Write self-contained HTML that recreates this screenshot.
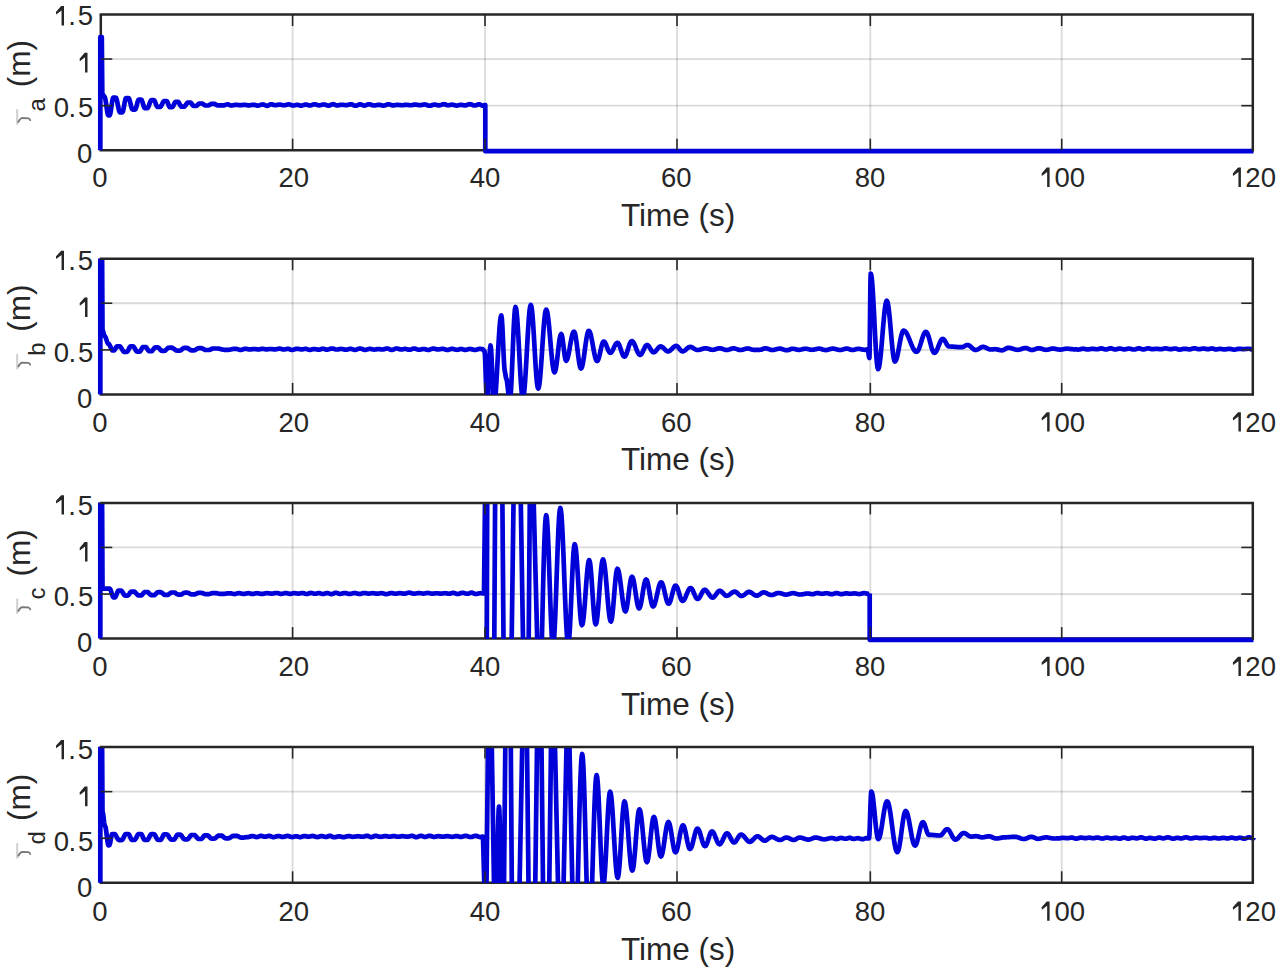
<!DOCTYPE html>
<html><head><meta charset="utf-8"><style>
html,body{margin:0;padding:0;background:#fff;width:1280px;height:968px;overflow:hidden}
svg{position:absolute;left:0;top:0;font-family:"Liberation Sans", sans-serif;}
text{fill:#262626}
</style></head><body>
<svg width="1280" height="968" viewBox="0 0 1280 968">
<rect width="1280" height="968" fill="#fff"/>
<g>
<rect width="1280" height="968" fill="#fff"/>
<line x1="292.60" y1="14.50" x2="292.60" y2="150.20" stroke="rgba(38,38,38,0.17)" stroke-width="1.8"/>
<line x1="485.00" y1="14.50" x2="485.00" y2="150.20" stroke="rgba(38,38,38,0.17)" stroke-width="1.8"/>
<line x1="677.00" y1="14.50" x2="677.00" y2="150.20" stroke="rgba(38,38,38,0.17)" stroke-width="1.8"/>
<line x1="870.30" y1="14.50" x2="870.30" y2="150.20" stroke="rgba(38,38,38,0.17)" stroke-width="1.8"/>
<line x1="1061.70" y1="14.50" x2="1061.70" y2="150.20" stroke="rgba(38,38,38,0.17)" stroke-width="1.8"/>
<line x1="100.80" y1="105.67" x2="1252.80" y2="105.67" stroke="rgba(38,38,38,0.17)" stroke-width="1.8"/>
<line x1="100.80" y1="59.03" x2="1252.80" y2="59.03" stroke="rgba(38,38,38,0.17)" stroke-width="1.8"/>
<path d="M100.80,14.50 V150.20 H1253.90" fill="none" stroke="#262626" stroke-width="2.5"/>
<line x1="292.60" y1="258.70" x2="292.60" y2="394.40" stroke="rgba(38,38,38,0.17)" stroke-width="1.8"/>
<line x1="485.00" y1="258.70" x2="485.00" y2="394.40" stroke="rgba(38,38,38,0.17)" stroke-width="1.8"/>
<line x1="677.00" y1="258.70" x2="677.00" y2="394.40" stroke="rgba(38,38,38,0.17)" stroke-width="1.8"/>
<line x1="870.30" y1="258.70" x2="870.30" y2="394.40" stroke="rgba(38,38,38,0.17)" stroke-width="1.8"/>
<line x1="1061.70" y1="258.70" x2="1061.70" y2="394.40" stroke="rgba(38,38,38,0.17)" stroke-width="1.8"/>
<line x1="100.80" y1="349.87" x2="1252.80" y2="349.87" stroke="rgba(38,38,38,0.17)" stroke-width="1.8"/>
<line x1="100.80" y1="303.23" x2="1252.80" y2="303.23" stroke="rgba(38,38,38,0.17)" stroke-width="1.8"/>
<path d="M100.80,258.70 V394.40 H1253.90" fill="none" stroke="#262626" stroke-width="2.5"/>
<line x1="292.60" y1="502.90" x2="292.60" y2="638.60" stroke="rgba(38,38,38,0.17)" stroke-width="1.8"/>
<line x1="485.00" y1="502.90" x2="485.00" y2="638.60" stroke="rgba(38,38,38,0.17)" stroke-width="1.8"/>
<line x1="677.00" y1="502.90" x2="677.00" y2="638.60" stroke="rgba(38,38,38,0.17)" stroke-width="1.8"/>
<line x1="870.30" y1="502.90" x2="870.30" y2="638.60" stroke="rgba(38,38,38,0.17)" stroke-width="1.8"/>
<line x1="1061.70" y1="502.90" x2="1061.70" y2="638.60" stroke="rgba(38,38,38,0.17)" stroke-width="1.8"/>
<line x1="100.80" y1="594.07" x2="1252.80" y2="594.07" stroke="rgba(38,38,38,0.17)" stroke-width="1.8"/>
<line x1="100.80" y1="547.43" x2="1252.80" y2="547.43" stroke="rgba(38,38,38,0.17)" stroke-width="1.8"/>
<path d="M100.80,502.90 V638.60 H1253.90" fill="none" stroke="#262626" stroke-width="2.5"/>
<line x1="292.60" y1="747.10" x2="292.60" y2="882.80" stroke="rgba(38,38,38,0.17)" stroke-width="1.8"/>
<line x1="485.00" y1="747.10" x2="485.00" y2="882.80" stroke="rgba(38,38,38,0.17)" stroke-width="1.8"/>
<line x1="677.00" y1="747.10" x2="677.00" y2="882.80" stroke="rgba(38,38,38,0.17)" stroke-width="1.8"/>
<line x1="870.30" y1="747.10" x2="870.30" y2="882.80" stroke="rgba(38,38,38,0.17)" stroke-width="1.8"/>
<line x1="1061.70" y1="747.10" x2="1061.70" y2="882.80" stroke="rgba(38,38,38,0.17)" stroke-width="1.8"/>
<line x1="100.80" y1="838.27" x2="1252.80" y2="838.27" stroke="rgba(38,38,38,0.17)" stroke-width="1.8"/>
<line x1="100.80" y1="791.63" x2="1252.80" y2="791.63" stroke="rgba(38,38,38,0.17)" stroke-width="1.8"/>
<path d="M100.80,747.10 V882.80 H1253.90" fill="none" stroke="#262626" stroke-width="2.5"/>
<defs><clipPath id="c0"><rect x="95" y="14.20" width="1165" height="136.30"/></clipPath><clipPath id="c1"><rect x="95" y="258.40" width="1165" height="136.30"/></clipPath><clipPath id="c2"><rect x="95" y="502.60" width="1165" height="136.30"/></clipPath><clipPath id="c3"><rect x="95" y="746.80" width="1165" height="136.30"/></clipPath></defs>
<path d="M100.30,150.20 L100.30,37.00 L101.80,37.00 L102.30,94.00 L102.65,94.17 L103.00,94.62 L103.35,95.25 L103.70,95.88 L104.05,96.33 L104.40,96.50 L104.90,97.22 L105.40,99.28 L105.90,102.36 L106.40,106.00 L106.90,109.64 L107.40,112.72 L107.90,114.78 L108.40,115.50 L108.95,115.50 L109.51,115.50 L110.06,114.58 L110.62,112.08 L111.17,108.49 L111.73,104.51 L112.28,100.92 L112.84,98.42 L113.39,97.50 L113.95,97.50 L114.50,97.50 L115.06,97.50 L115.62,97.50 L116.17,97.93 L116.73,99.50 L117.29,101.96 L117.85,104.90 L118.41,107.84 L118.97,110.30 L119.53,111.87 L120.08,112.30 L120.64,112.30 L121.20,112.30 L121.75,112.30 L122.29,112.30 L122.84,111.57 L123.38,109.59 L123.93,106.73 L124.47,103.57 L125.02,100.71 L125.56,98.73 L126.11,98.00 L126.65,98.00 L127.20,98.00 L127.76,98.00 L128.32,98.00 L128.88,98.34 L129.43,99.57 L129.99,101.49 L130.55,103.80 L131.11,106.11 L131.67,108.03 L132.22,109.26 L132.78,109.60 L133.34,109.60 L133.90,109.60 L134.45,109.60 L135.01,109.60 L135.56,109.09 L136.12,107.68 L136.67,105.67 L137.23,103.43 L137.78,101.42 L138.34,100.01 L138.89,99.50 L139.45,99.50 L140.00,99.50 L140.55,99.50 L141.09,99.50 L141.64,99.94 L142.18,101.15 L142.73,102.89 L143.27,104.81 L143.82,106.55 L144.36,107.76 L144.91,108.20 L145.45,108.20 L146.00,108.20 L146.56,108.20 L147.12,108.20 L147.68,107.97 L148.23,107.12 L148.79,105.79 L149.35,104.20 L149.91,102.61 L150.47,101.28 L151.02,100.43 L151.58,100.20 L152.14,100.20 L152.70,100.20 L153.25,100.20 L153.81,100.20 L154.36,100.55 L154.92,101.49 L155.47,102.85 L156.03,104.35 L156.58,105.71 L157.14,106.65 L157.69,107.00 L158.25,107.00 L158.80,107.00 L159.36,107.00 L159.92,107.00 L160.48,106.82 L161.03,106.19 L161.59,105.19 L162.15,104.00 L162.71,102.81 L163.27,101.81 L163.82,101.18 L164.38,101.00 L164.94,101.00 L165.50,101.00 L166.05,101.00 L166.60,101.01 L167.15,101.52 L167.70,102.64 L168.25,104.10 L168.80,105.56 L169.35,106.68 L169.90,107.19 L170.45,107.20 L171.00,107.20 L171.58,107.20 L172.16,107.19 L172.74,106.74 L173.32,105.77 L173.90,104.50 L174.48,103.23 L175.06,102.26 L175.64,101.81 L176.22,101.80 L176.80,101.80 L177.39,101.80 L177.98,101.81 L178.57,102.21 L179.16,103.10 L179.75,104.25 L180.34,105.40 L180.93,106.29 L181.52,106.69 L182.11,106.70 L182.70,106.70 L183.30,106.70 L183.90,106.70 L184.50,106.49 L185.10,105.90 L185.70,105.06 L186.30,104.14 L186.90,103.30 L187.50,102.71 L188.10,102.50 L188.70,102.50 L189.30,102.50 L189.85,102.50 L190.40,102.51 L190.95,102.79 L191.50,103.43 L192.05,104.25 L192.60,105.07 L193.15,105.71 L193.70,105.99 L194.25,106.00 L194.80,106.00 L195.38,106.00 L195.96,105.99 L196.54,105.79 L197.12,105.34 L197.70,104.75 L198.28,104.16 L198.86,103.71 L199.44,103.51 L200.02,103.50 L200.60,103.50 L201.17,103.50 L201.75,103.50 L202.32,103.60 L202.89,103.88 L203.46,104.28 L204.04,104.72 L204.61,105.12 L205.18,105.40 L205.75,105.50 L206.33,105.50 L206.90,105.50 L207.45,105.50 L208.01,105.50 L208.56,105.41 L209.12,105.18 L209.67,104.84 L210.23,104.46 L210.78,104.12 L211.34,103.89 L211.89,103.80 L212.45,103.80 L213.00,103.80 L213.55,103.80 L214.09,103.80 L214.64,103.88 L215.18,104.10 L215.73,104.42 L216.27,104.78 L216.82,105.10 L217.36,105.32 L217.91,105.40 L218.45,105.40 L219.00,105.40 L219.56,105.40 L220.12,105.40 L220.69,105.39 L221.25,105.39 L221.81,105.38 L222.38,105.38 L222.94,105.38 L223.50,105.38 L224.00,105.34 L224.51,105.23 L225.01,105.07 L225.51,104.89 L226.02,104.70 L226.52,104.54 L227.03,104.43 L227.53,104.39 L228.09,104.45 L228.65,104.61 L229.21,104.83 L229.77,105.09 L230.33,105.31 L230.89,105.47 L231.45,105.53 L231.99,105.50 L232.53,105.42 L233.07,105.30 L233.61,105.17 L234.15,105.03 L234.69,104.91 L235.23,104.84 L235.77,104.81 L236.33,104.82 L236.90,104.86 L237.46,104.92 L238.03,104.99 L238.59,105.06 L239.15,105.12 L239.72,105.16 L240.28,105.18 L240.83,105.16 L241.38,105.12 L241.93,105.06 L242.49,104.99 L243.04,104.92 L243.59,104.86 L244.14,104.82 L244.69,104.80 L245.25,104.83 L245.82,104.92 L246.38,105.05 L246.95,105.20 L247.51,105.33 L248.07,105.42 L248.64,105.45 L249.19,105.43 L249.74,105.37 L250.29,105.28 L250.83,105.16 L251.38,105.05 L251.93,104.93 L252.48,104.84 L253.03,104.78 L253.58,104.76 L254.10,104.79 L254.61,104.88 L255.13,105.02 L255.64,105.18 L256.16,105.33 L256.67,105.47 L257.19,105.56 L257.71,105.59 L258.27,105.55 L258.84,105.46 L259.41,105.30 L259.97,105.12 L260.54,104.92 L261.11,104.73 L261.68,104.58 L262.24,104.48 L262.81,104.45 L263.36,104.50 L263.90,104.65 L264.45,104.87 L264.99,105.14 L265.54,105.41 L266.08,105.63 L266.63,105.78 L267.17,105.83 L267.73,105.75 L268.28,105.54 L268.84,105.22 L269.39,104.86 L269.95,104.55 L270.50,104.33 L271.06,104.25 L271.59,104.29 L272.11,104.40 L272.64,104.56 L273.17,104.75 L273.69,104.94 L274.22,105.10 L274.75,105.21 L275.27,105.25 L275.84,105.22 L276.41,105.13 L276.98,105.01 L277.55,104.87 L278.12,104.75 L278.69,104.66 L279.26,104.63 L279.81,104.65 L280.35,104.71 L280.90,104.79 L281.45,104.90 L282.00,105.01 L282.54,105.12 L283.09,105.20 L283.64,105.26 L284.19,105.28 L284.76,105.24 L285.34,105.15 L285.91,105.01 L286.49,104.84 L287.07,104.67 L287.64,104.53 L288.22,104.44 L288.80,104.40 L289.34,104.45 L289.88,104.57 L290.42,104.75 L290.96,104.97 L291.50,105.18 L292.04,105.37 L292.58,105.49 L293.12,105.53 L293.68,105.50 L294.24,105.40 L294.80,105.25 L295.36,105.09 L295.92,104.94 L296.47,104.84 L297.03,104.81 L297.55,104.84 L298.06,104.93 L298.57,105.06 L299.08,105.22 L299.60,105.37 L300.11,105.51 L300.62,105.60 L301.14,105.63 L301.69,105.59 L302.24,105.48 L302.79,105.32 L303.34,105.13 L303.89,104.94 L304.44,104.78 L304.99,104.67 L305.54,104.63 L306.12,104.66 L306.69,104.75 L307.27,104.89 L307.85,105.05 L308.42,105.21 L309.00,105.34 L309.58,105.44 L310.15,105.47 L310.68,105.42 L311.21,105.30 L311.74,105.11 L312.27,104.88 L312.80,104.66 L313.33,104.47 L313.85,104.34 L314.38,104.29 L314.91,104.32 L315.44,104.41 L315.97,104.55 L316.50,104.72 L317.03,104.90 L317.56,105.06 L318.09,105.20 L318.62,105.29 L319.15,105.32 L319.73,105.29 L320.30,105.20 L320.88,105.06 L321.45,104.90 L322.03,104.74 L322.60,104.61 L323.18,104.51 L323.75,104.48 L324.31,104.52 L324.87,104.62 L325.42,104.78 L325.98,104.97 L326.53,105.17 L327.09,105.37 L327.65,105.52 L328.20,105.63 L328.76,105.66 L329.29,105.60 L329.81,105.44 L330.34,105.20 L330.87,104.91 L331.39,104.63 L331.92,104.38 L332.45,104.22 L332.97,104.16 L333.54,104.23 L334.11,104.40 L334.68,104.66 L335.25,104.95 L335.82,105.20 L336.39,105.38 L336.96,105.44 L337.50,105.42 L338.03,105.36 L338.57,105.27 L339.11,105.15 L339.65,105.03 L340.19,104.92 L340.73,104.83 L341.27,104.76 L341.80,104.74 L342.36,104.76 L342.93,104.81 L343.49,104.88 L344.05,104.96 L344.61,105.04 L345.17,105.11 L345.73,105.16 L346.29,105.18 L346.81,105.15 L347.34,105.08 L347.86,104.96 L348.39,104.82 L348.92,104.67 L349.44,104.53 L349.97,104.42 L350.49,104.34 L351.02,104.31 L351.59,104.37 L352.17,104.53 L352.74,104.76 L353.32,105.04 L353.89,105.32 L354.47,105.55 L355.04,105.71 L355.61,105.76 L356.15,105.71 L356.68,105.56 L357.21,105.33 L357.74,105.06 L358.27,104.80 L358.80,104.57 L359.33,104.42 L359.86,104.36 L360.44,104.41 L361.02,104.54 L361.60,104.73 L362.18,104.96 L362.76,105.19 L363.33,105.38 L363.91,105.51 L364.49,105.56 L365.05,105.51 L365.60,105.37 L366.16,105.16 L366.71,104.91 L367.27,104.66 L367.82,104.45 L368.38,104.31 L368.93,104.26 L369.50,104.30 L370.07,104.40 L370.63,104.57 L371.20,104.77 L371.77,104.98 L372.33,105.18 L372.90,105.34 L373.47,105.45 L374.03,105.48 L374.56,105.46 L375.08,105.40 L375.61,105.31 L376.13,105.20 L376.66,105.09 L377.18,104.98 L377.70,104.89 L378.23,104.83 L378.75,104.81 L379.28,104.83 L379.81,104.90 L380.34,105.01 L380.87,105.14 L381.40,105.27 L381.94,105.40 L382.47,105.51 L383.00,105.58 L383.53,105.60 L384.10,105.56 L384.67,105.45 L385.25,105.27 L385.82,105.05 L386.40,104.82 L386.97,104.61 L387.54,104.43 L388.12,104.31 L388.69,104.27 L389.22,104.32 L389.74,104.44 L390.27,104.63 L390.80,104.85 L391.32,105.07 L391.85,105.25 L392.37,105.38 L392.90,105.42 L393.43,105.40 L393.95,105.35 L394.48,105.27 L395.00,105.18 L395.53,105.08 L396.05,104.98 L396.58,104.90 L397.10,104.85 L397.63,104.83 L398.18,104.85 L398.74,104.90 L399.30,104.97 L399.85,105.05 L400.41,105.13 L400.96,105.20 L401.52,105.25 L402.08,105.27 L402.65,105.24 L403.21,105.18 L403.78,105.09 L404.35,104.99 L404.92,104.90 L405.49,104.83 L406.06,104.81 L406.60,104.82 L407.14,104.86 L407.68,104.92 L408.22,104.99 L408.76,105.06 L409.30,105.13 L409.84,105.19 L410.38,105.23 L410.92,105.24 L411.44,105.22 L411.96,105.14 L412.48,105.04 L413.00,104.91 L413.52,104.78 L414.04,104.67 L414.56,104.60 L415.08,104.58 L415.64,104.60 L416.19,104.65 L416.75,104.73 L417.30,104.84 L417.86,104.95 L418.42,105.05 L418.97,105.13 L419.53,105.19 L420.08,105.21 L420.64,105.18 L421.19,105.10 L421.74,104.98 L422.30,104.84 L422.85,104.69 L423.41,104.57 L423.96,104.49 L424.51,104.47 L425.07,104.50 L425.63,104.61 L426.19,104.78 L426.74,104.99 L427.30,105.20 L427.86,105.41 L428.42,105.58 L428.97,105.69 L429.53,105.72 L430.09,105.69 L430.64,105.60 L431.20,105.46 L431.75,105.28 L432.30,105.10 L432.86,104.92 L433.41,104.78 L433.97,104.69 L434.52,104.66 L435.07,104.68 L435.62,104.76 L436.17,104.89 L436.72,105.03 L437.26,105.17 L437.81,105.29 L438.36,105.37 L438.91,105.40 L439.47,105.36 L440.02,105.26 L440.58,105.10 L441.14,104.90 L441.70,104.68 L442.25,104.48 L442.81,104.32 L443.37,104.22 L443.93,104.18 L444.43,104.22 L444.93,104.34 L445.44,104.52 L445.94,104.73 L446.45,104.94 L446.95,105.11 L447.45,105.23 L447.96,105.27 L448.47,105.25 L448.99,105.19 L449.51,105.09 L450.02,104.98 L450.54,104.87 L451.06,104.77 L451.58,104.71 L452.09,104.69 L452.65,104.72 L453.21,104.81 L453.77,104.96 L454.33,105.12 L454.89,105.29 L455.45,105.43 L456.01,105.53 L456.57,105.56 L457.10,105.54 L457.62,105.46 L458.14,105.34 L458.66,105.20 L459.19,105.07 L459.71,104.95 L460.23,104.87 L460.75,104.85 L461.30,104.87 L461.85,104.93 L462.40,105.02 L462.95,105.13 L463.50,105.24 L464.05,105.33 L464.60,105.39 L465.14,105.41 L465.72,105.36 L466.29,105.23 L466.87,105.03 L467.44,104.80 L468.01,104.56 L468.59,104.36 L469.16,104.23 L469.73,104.18 L470.26,104.22 L470.79,104.34 L471.32,104.51 L471.85,104.73 L472.38,104.96 L472.91,105.18 L473.43,105.36 L473.96,105.47 L474.49,105.51 L475.07,105.47 L475.66,105.34 L476.24,105.16 L476.82,104.94 L477.40,104.73 L477.98,104.54 L478.57,104.42 L479.15,104.38 L479.71,104.45 L480.26,104.64 L480.82,104.92 L481.38,105.23 L481.93,105.52 L482.49,105.71 L483.05,105.78 L483.42,105.73 L483.80,105.58 L484.17,105.39 L484.55,105.19 L484.92,105.05 L485.30,105.00 L485.30,151.20 L1253.50,151.20" fill="none" stroke="#0000d8" stroke-width="4.7" stroke-linejoin="round"/>
<path d="M100.30,394.40 L100.30,238.70 L102.00,238.70 L102.50,330.00 L102.83,330.40 L103.17,331.50 L103.50,333.00 L103.83,334.50 L104.17,335.60 L104.50,336.00 L105.00,336.30 L105.50,337.17 L106.00,338.47 L106.50,340.00 L107.00,341.53 L107.50,342.83 L108.00,343.70 L108.50,344.00 L109.04,344.25 L109.58,344.95 L110.11,346.01 L110.65,347.25 L111.19,348.49 L111.72,349.55 L112.26,350.25 L112.80,350.50 L113.34,350.50 L113.88,350.49 L114.42,350.15 L114.96,349.39 L115.50,348.40 L116.04,347.41 L116.58,346.65 L117.12,346.31 L117.66,346.30 L118.20,346.30 L118.78,346.30 L119.35,346.30 L119.93,346.39 L120.51,346.84 L121.08,347.62 L121.66,348.62 L122.24,349.68 L122.82,350.68 L123.39,351.46 L123.97,351.91 L124.55,352.00 L125.12,352.00 L125.70,352.00 L126.30,352.00 L126.90,351.99 L127.50,351.52 L128.10,350.49 L128.70,349.15 L129.30,347.81 L129.90,346.78 L130.50,346.31 L131.10,346.30 L131.70,346.30 L132.26,346.30 L132.82,346.30 L133.38,346.45 L133.93,347.02 L134.49,347.90 L135.05,348.95 L135.61,350.00 L136.17,350.88 L136.72,351.45 L137.28,351.60 L137.84,351.60 L138.40,351.60 L138.95,351.60 L139.49,351.60 L140.04,351.37 L140.58,350.73 L141.13,349.81 L141.67,348.79 L142.22,347.87 L142.76,347.23 L143.31,347.00 L143.85,347.00 L144.40,347.00 L144.95,347.00 L145.49,347.00 L146.04,347.21 L146.58,347.80 L147.13,348.64 L147.67,349.56 L148.22,350.40 L148.76,350.99 L149.31,351.20 L149.85,351.20 L150.40,351.20 L150.95,351.20 L151.49,351.20 L152.04,351.01 L152.58,350.48 L153.13,349.72 L153.67,348.88 L154.22,348.12 L154.76,347.59 L155.31,347.40 L155.85,347.40 L156.40,347.40 L156.97,347.40 L157.53,347.40 L158.10,347.50 L158.67,347.86 L159.23,348.42 L159.80,349.10 L160.37,349.78 L160.93,350.34 L161.50,350.70 L162.07,350.80 L162.63,350.80 L163.20,350.80 L163.77,350.80 L164.33,350.80 L164.90,350.71 L165.47,350.38 L166.03,349.87 L166.60,349.25 L167.17,348.63 L167.73,348.12 L168.30,347.79 L168.87,347.70 L169.43,347.70 L170.00,347.70 L170.61,347.70 L171.23,347.70 L171.84,347.72 L172.46,347.89 L173.07,348.21 L173.69,348.65 L174.30,349.15 L174.91,349.65 L175.53,350.09 L176.14,350.41 L176.76,350.58 L177.37,350.60 L177.99,350.60 L178.60,350.60 L179.17,350.60 L179.75,350.60 L180.32,350.52 L180.90,350.24 L181.47,349.79 L182.05,349.25 L182.62,348.71 L183.20,348.26 L183.78,347.98 L184.35,347.90 L184.93,347.90 L185.50,347.90 L186.11,347.90 L186.72,347.90 L187.32,347.97 L187.93,348.22 L188.54,348.62 L189.15,349.10 L189.76,349.58 L190.37,349.98 L190.98,350.23 L191.58,350.30 L192.19,350.30 L192.80,350.30 L193.40,350.30 L194.00,350.30 L194.60,350.24 L195.20,350.02 L195.80,349.67 L196.40,349.25 L197.00,348.83 L197.60,348.48 L198.20,348.26 L198.80,348.20 L199.40,348.20 L200.00,348.20 L200.58,348.20 L201.17,348.20 L201.75,348.25 L202.33,348.44 L202.92,348.74 L203.50,349.10 L204.08,349.46 L204.67,349.76 L205.25,349.95 L205.83,350.00 L206.42,350.00 L207.00,350.00 L207.57,350.00 L208.14,350.00 L208.71,349.99 L209.29,349.90 L209.86,349.73 L210.43,349.51 L211.00,349.25 L211.57,348.99 L212.14,348.77 L212.71,348.60 L213.29,348.51 L213.86,348.50 L214.43,348.50 L215.00,348.50 L215.62,348.50 L216.23,348.50 L216.85,348.50 L217.46,348.51 L218.08,348.55 L218.69,348.64 L219.31,348.76 L219.93,348.90 L220.54,349.07 L221.16,349.23 L221.77,349.40 L222.39,349.54 L223.01,349.66 L223.62,349.75 L224.24,349.79 L224.85,349.80 L225.47,349.80 L226.08,349.80 L226.70,349.80 L227.32,349.80 L227.94,349.80 L228.56,349.80 L229.18,349.76 L229.80,349.68 L230.42,349.56 L231.04,349.42 L231.66,349.28 L232.28,349.14 L232.90,349.02 L233.52,348.94 L234.14,348.90 L234.76,348.90 L235.38,348.90 L236.00,348.90 L236.56,348.94 L237.12,349.04 L237.69,349.20 L238.25,349.39 L238.81,349.57 L239.38,349.73 L239.94,349.84 L240.50,349.87 L241.04,349.84 L241.59,349.75 L242.13,349.61 L242.68,349.44 L243.22,349.25 L243.77,349.08 L244.31,348.94 L244.86,348.85 L245.40,348.81 L245.95,348.84 L246.49,348.90 L247.04,349.00 L247.58,349.11 L248.13,349.23 L248.67,349.32 L249.22,349.39 L249.77,349.41 L250.29,349.40 L250.81,349.37 L251.33,349.31 L251.85,349.25 L252.37,349.18 L252.89,349.11 L253.41,349.06 L253.93,349.02 L254.45,349.01 L255.01,349.04 L255.57,349.10 L256.13,349.19 L256.68,349.30 L257.24,349.39 L257.80,349.45 L258.36,349.48 L258.87,349.45 L259.37,349.38 L259.88,349.28 L260.39,349.16 L260.89,349.04 L261.40,348.94 L261.90,348.87 L262.41,348.85 L262.96,348.87 L263.52,348.94 L264.08,349.04 L264.63,349.15 L265.19,349.26 L265.75,349.33 L266.30,349.35 L266.81,349.34 L267.31,349.30 L267.81,349.24 L268.32,349.17 L268.82,349.10 L269.32,349.04 L269.83,349.00 L270.33,348.99 L270.87,349.00 L271.41,349.04 L271.95,349.11 L272.49,349.18 L273.03,349.25 L273.57,349.31 L274.11,349.35 L274.65,349.37 L275.20,349.34 L275.76,349.29 L276.32,349.19 L276.87,349.08 L277.43,348.96 L277.99,348.85 L278.54,348.76 L279.10,348.70 L279.65,348.68 L280.16,348.71 L280.66,348.80 L281.16,348.93 L281.67,349.09 L282.17,349.25 L282.67,349.38 L283.18,349.47 L283.68,349.50 L284.22,349.48 L284.75,349.40 L285.29,349.29 L285.83,349.17 L286.36,349.04 L286.90,348.93 L287.44,348.86 L287.97,348.83 L288.54,348.88 L289.11,349.03 L289.68,349.23 L290.25,349.46 L290.82,349.67 L291.39,349.81 L291.96,349.86 L292.54,349.83 L293.11,349.73 L293.69,349.59 L294.26,349.41 L294.83,349.22 L295.41,349.04 L295.98,348.90 L296.56,348.80 L297.13,348.77 L297.69,348.79 L298.25,348.86 L298.81,348.97 L299.37,349.09 L299.93,349.21 L300.49,349.31 L301.05,349.38 L301.61,349.40 L302.17,349.37 L302.74,349.30 L303.31,349.18 L303.87,349.06 L304.44,348.95 L305.00,348.87 L305.57,348.84 L306.09,348.88 L306.62,348.99 L307.14,349.15 L307.66,349.35 L308.18,349.54 L308.71,349.70 L309.23,349.81 L309.75,349.85 L310.26,349.82 L310.76,349.73 L311.27,349.60 L311.77,349.44 L312.28,349.29 L312.79,349.15 L313.29,349.07 L313.80,349.04 L314.36,349.06 L314.93,349.11 L315.50,349.19 L316.07,349.30 L316.63,349.41 L317.20,349.51 L317.77,349.59 L318.34,349.65 L318.90,349.67 L319.41,349.63 L319.91,349.53 L320.41,349.38 L320.92,349.20 L321.42,349.02 L321.92,348.86 L322.42,348.76 L322.93,348.72 L323.48,348.77 L324.03,348.90 L324.58,349.09 L325.13,349.30 L325.69,349.49 L326.24,349.62 L326.79,349.67 L327.36,349.63 L327.93,349.53 L328.50,349.38 L329.08,349.20 L329.65,349.00 L330.22,348.82 L330.79,348.66 L331.36,348.57 L331.94,348.53 L332.46,348.56 L332.99,348.65 L333.52,348.78 L334.05,348.93 L334.58,349.10 L335.11,349.26 L335.64,349.39 L336.17,349.48 L336.70,349.51 L337.24,349.49 L337.78,349.43 L338.32,349.33 L338.86,349.23 L339.40,349.12 L339.94,349.03 L340.48,348.97 L341.02,348.95 L341.56,348.97 L342.10,349.03 L342.64,349.13 L343.18,349.25 L343.72,349.37 L344.26,349.49 L344.81,349.59 L345.35,349.65 L345.89,349.67 L346.43,349.64 L346.97,349.57 L347.51,349.47 L348.05,349.33 L348.60,349.19 L349.14,349.06 L349.68,348.95 L350.22,348.88 L350.76,348.85 L351.28,348.89 L351.80,349.00 L352.31,349.16 L352.83,349.34 L353.34,349.53 L353.86,349.69 L354.37,349.80 L354.89,349.84 L355.46,349.80 L356.04,349.69 L356.61,349.51 L357.18,349.30 L357.75,349.07 L358.33,348.86 L358.90,348.69 L359.47,348.58 L360.04,348.54 L360.59,348.58 L361.14,348.69 L361.68,348.86 L362.23,349.08 L362.77,349.30 L363.32,349.52 L363.87,349.69 L364.41,349.80 L364.96,349.84 L365.49,349.81 L366.03,349.73 L366.57,349.61 L367.10,349.46 L367.64,349.30 L368.17,349.15 L368.71,349.02 L369.25,348.94 L369.78,348.91 L370.35,348.94 L370.91,349.01 L371.48,349.11 L372.04,349.24 L372.61,349.36 L373.17,349.47 L373.74,349.54 L374.31,349.56 L374.86,349.54 L375.41,349.46 L375.96,349.36 L376.51,349.24 L377.07,349.13 L377.62,349.06 L378.17,349.03 L378.69,349.05 L379.22,349.10 L379.75,349.18 L380.27,349.27 L380.80,349.36 L381.32,349.44 L381.85,349.49 L382.37,349.51 L382.90,349.47 L383.43,349.39 L383.96,349.25 L384.49,349.08 L385.02,348.90 L385.55,348.73 L386.07,348.60 L386.60,348.51 L387.13,348.48 L387.69,348.53 L388.24,348.69 L388.79,348.92 L389.35,349.19 L389.90,349.47 L390.45,349.70 L391.01,349.86 L391.56,349.91 L392.13,349.87 L392.71,349.74 L393.28,349.55 L393.85,349.32 L394.43,349.07 L395.00,348.84 L395.57,348.64 L396.15,348.52 L396.72,348.48 L397.26,348.52 L397.80,348.62 L398.34,348.79 L398.88,348.98 L399.42,349.17 L399.96,349.34 L400.50,349.44 L401.04,349.48 L401.55,349.46 L402.07,349.40 L402.59,349.31 L403.10,349.21 L403.62,349.10 L404.14,349.01 L404.65,348.95 L405.17,348.93 L405.68,348.96 L406.19,349.05 L406.71,349.18 L407.22,349.33 L407.73,349.48 L408.24,349.61 L408.76,349.69 L409.27,349.72 L409.83,349.69 L410.39,349.59 L410.95,349.43 L411.51,349.24 L412.07,349.03 L412.63,348.84 L413.19,348.68 L413.75,348.58 L414.31,348.55 L414.87,348.59 L415.43,348.72 L415.99,348.91 L416.55,349.14 L417.10,349.37 L417.66,349.57 L418.22,349.70 L418.78,349.74 L419.33,349.72 L419.87,349.65 L420.42,349.56 L420.96,349.43 L421.51,349.31 L422.05,349.18 L422.60,349.09 L423.14,349.02 L423.69,349.00 L424.21,349.03 L424.73,349.10 L425.26,349.22 L425.78,349.37 L426.31,349.53 L426.83,349.67 L427.35,349.79 L427.88,349.87 L428.40,349.90 L428.95,349.86 L429.49,349.74 L430.03,349.57 L430.57,349.36 L431.11,349.14 L431.66,348.92 L432.20,348.75 L432.74,348.64 L433.28,348.60 L433.84,348.63 L434.40,348.73 L434.96,348.86 L435.52,349.03 L436.08,349.19 L436.64,349.33 L437.20,349.42 L437.75,349.46 L438.30,349.44 L438.84,349.39 L439.38,349.31 L439.93,349.21 L440.47,349.10 L441.01,349.00 L441.56,348.92 L442.10,348.87 L442.64,348.85 L443.19,348.88 L443.73,348.98 L444.28,349.12 L444.83,349.30 L445.37,349.49 L445.92,349.66 L446.46,349.81 L447.01,349.90 L447.55,349.93 L448.10,349.89 L448.64,349.77 L449.19,349.59 L449.73,349.37 L450.28,349.16 L450.82,348.97 L451.37,348.85 L451.91,348.81 L452.48,348.84 L453.04,348.92 L453.61,349.05 L454.18,349.21 L454.75,349.38 L455.31,349.54 L455.88,349.67 L456.45,349.76 L457.01,349.78 L457.52,349.75 L458.03,349.67 L458.53,349.53 L459.04,349.38 L459.55,349.22 L460.05,349.09 L460.56,349.00 L461.07,348.97 L461.57,349.01 L462.08,349.11 L462.58,349.26 L463.08,349.43 L463.59,349.61 L464.09,349.76 L464.59,349.86 L465.10,349.89 L465.64,349.86 L466.19,349.78 L466.73,349.66 L467.28,349.51 L467.83,349.35 L468.37,349.19 L468.92,349.07 L469.46,348.99 L470.01,348.96 L470.56,348.99 L471.11,349.08 L471.66,349.21 L472.21,349.37 L472.76,349.53 L473.30,349.69 L473.85,349.82 L474.40,349.91 L474.95,349.94 L475.48,349.91 L476.00,349.81 L476.52,349.66 L477.05,349.48 L477.57,349.29 L478.09,349.11 L478.62,348.97 L479.14,348.87 L479.66,348.84 L480.14,348.86 L480.61,348.93 L481.08,349.02 L481.55,349.11 L482.03,349.18 L482.50,349.20 L482.83,349.32 L483.17,349.65 L483.50,350.10 L483.83,350.55 L484.17,350.88 L484.50,351.00 L484.92,354.42 L485.33,363.75 L485.75,376.50 L486.17,389.25 L486.58,398.58 L487.00,402.00 L487.50,399.20 L488.00,391.36 L488.50,380.04 L489.00,367.46 L489.50,356.14 L490.00,348.30 L490.50,345.50 L491.00,348.40 L491.50,356.51 L492.00,368.24 L492.50,381.26 L493.00,392.99 L493.50,401.10 L494.00,404.00 L494.61,402.49 L495.22,398.07 L495.82,391.04 L496.43,381.88 L497.04,371.20 L497.65,359.75 L498.26,348.30 L498.87,337.62 L499.48,328.46 L500.08,321.43 L500.69,317.01 L501.30,315.50 L501.83,318.30 L502.36,326.14 L502.89,337.46 L503.41,350.04 L503.94,361.36 L504.47,369.20 L505.00,372.00 L506.00,378.00 L506.54,379.09 L507.09,382.14 L507.63,386.55 L508.17,391.45 L508.71,395.86 L509.26,398.91 L509.80,400.00 L510.37,397.72 L510.94,391.12 L511.51,380.83 L512.08,367.87 L512.65,353.50 L513.22,339.13 L513.79,326.17 L514.36,315.88 L514.93,309.28 L515.50,307.00 L516.07,308.32 L516.64,312.21 L517.21,318.44 L517.78,326.65 L518.35,336.37 L518.92,347.02 L519.48,357.98 L520.05,368.63 L520.62,378.35 L521.19,386.56 L521.76,392.79 L522.33,396.68 L522.90,398.00 L523.51,396.65 L524.12,392.67 L524.72,386.31 L525.33,377.92 L525.94,367.99 L526.55,357.10 L527.15,345.90 L527.76,335.01 L528.37,325.08 L528.98,316.69 L529.58,310.33 L530.19,306.35 L530.80,305.00 L531.37,306.21 L531.94,309.78 L532.51,315.50 L533.08,323.03 L533.65,331.95 L534.22,341.72 L534.78,351.78 L535.35,361.55 L535.92,370.47 L536.49,378.00 L537.06,383.72 L537.63,387.29 L538.20,388.50 L538.77,387.51 L539.34,384.59 L539.91,379.89 L540.49,373.65 L541.06,366.17 L541.63,357.83 L542.20,349.05 L542.77,340.27 L543.34,331.93 L543.91,324.45 L544.49,318.21 L545.06,313.51 L545.63,310.59 L546.20,309.60 L546.79,310.39 L547.39,312.70 L547.98,316.44 L548.57,321.40 L549.16,327.35 L549.76,333.97 L550.35,340.95 L550.94,347.93 L551.54,354.55 L552.13,360.50 L552.72,365.46 L553.31,369.20 L553.91,371.51 L554.50,372.30 L555.06,371.65 L555.62,369.74 L556.17,366.71 L556.73,362.75 L557.29,358.14 L557.85,353.20 L558.41,348.26 L558.97,343.65 L559.53,339.69 L560.08,336.66 L560.64,334.75 L561.20,334.10 L561.74,334.90 L562.29,337.21 L562.83,340.75 L563.38,345.09 L563.92,349.71 L564.47,354.05 L565.01,357.59 L565.56,359.90 L566.10,360.70 L566.71,360.28 L567.32,359.03 L567.92,357.04 L568.53,354.42 L569.14,351.31 L569.75,347.90 L570.35,344.40 L570.96,340.99 L571.57,337.88 L572.18,335.26 L572.78,333.27 L573.39,332.02 L574.00,331.60 L574.58,332.23 L575.17,334.07 L575.75,337.00 L576.33,340.82 L576.92,345.27 L577.50,350.05 L578.08,354.83 L578.67,359.27 L579.25,363.10 L579.83,366.03 L580.42,367.87 L581.00,368.50 L581.60,367.95 L582.20,366.34 L582.80,363.76 L583.40,360.36 L584.00,356.33 L584.60,351.92 L585.20,347.38 L585.80,342.97 L586.40,338.94 L587.00,335.54 L587.60,332.96 L588.20,331.35 L588.80,330.80 L589.39,331.18 L589.99,332.30 L590.58,334.11 L591.17,336.50 L591.76,339.38 L592.36,342.58 L592.95,345.95 L593.54,349.32 L594.14,352.52 L594.73,355.40 L595.32,357.79 L595.91,359.60 L596.51,360.72 L597.10,361.10 L597.70,360.70 L598.30,359.54 L598.90,357.72 L599.50,355.37 L600.10,352.69 L600.70,349.91 L601.30,347.23 L601.90,344.88 L602.50,343.06 L603.10,341.90 L603.70,341.50 L604.30,341.73 L604.90,342.40 L605.50,343.45 L606.10,344.80 L606.70,346.35 L607.30,347.95 L607.90,349.50 L608.50,350.85 L609.10,351.90 L609.70,352.57 L610.30,352.80 L610.89,352.63 L611.48,352.13 L612.07,351.34 L612.67,350.30 L613.26,349.09 L613.85,347.80 L614.44,346.51 L615.03,345.30 L615.62,344.26 L616.22,343.47 L616.81,342.97 L617.40,342.80 L617.98,343.04 L618.57,343.72 L619.15,344.82 L619.73,346.25 L620.32,347.91 L620.90,349.70 L621.48,351.49 L622.07,353.15 L622.65,354.58 L623.23,355.68 L623.82,356.36 L624.40,356.60 L624.97,356.37 L625.54,355.71 L626.11,354.65 L626.68,353.25 L627.25,351.60 L627.82,349.78 L628.38,347.92 L628.95,346.10 L629.52,344.45 L630.09,343.05 L630.66,341.99 L631.23,341.33 L631.80,341.10 L632.39,341.27 L632.99,341.78 L633.58,342.61 L634.17,343.70 L634.76,345.01 L635.36,346.46 L635.95,348.00 L636.54,349.54 L637.14,350.99 L637.73,352.30 L638.32,353.39 L638.91,354.22 L639.51,354.73 L640.10,354.90 L640.68,354.73 L641.25,354.24 L641.83,353.45 L642.40,352.43 L642.98,351.23 L643.55,349.95 L644.12,348.67 L644.70,347.48 L645.27,346.45 L645.85,345.66 L646.42,345.17 L647.00,345.00 L647.60,345.15 L648.20,345.58 L648.80,346.26 L649.40,347.13 L650.00,348.13 L650.60,349.17 L651.20,350.17 L651.80,351.04 L652.40,351.72 L653.00,352.15 L653.60,352.30 L654.18,352.20 L654.77,351.90 L655.35,351.44 L655.93,350.82 L656.52,350.11 L657.10,349.35 L657.68,348.59 L658.27,347.88 L658.85,347.26 L659.43,346.80 L660.02,346.50 L660.60,346.40 L661.18,346.47 L661.75,346.69 L662.33,347.03 L662.91,347.48 L663.48,348.01 L664.06,348.60 L664.64,349.20 L665.22,349.79 L665.79,350.32 L666.37,350.77 L666.95,351.11 L667.52,351.33 L668.10,351.40 L668.67,351.33 L669.24,351.13 L669.81,350.80 L670.39,350.36 L670.96,349.84 L671.53,349.26 L672.10,348.65 L672.67,348.04 L673.24,347.46 L673.81,346.94 L674.39,346.50 L674.96,346.17 L675.53,345.97 L676.10,345.90 L676.69,346.01 L677.28,346.34 L677.87,346.85 L678.46,347.51 L679.05,348.26 L679.65,349.04 L680.24,349.79 L680.83,350.45 L681.42,350.96 L682.01,351.29 L682.60,351.40 L683.18,351.33 L683.75,351.14 L684.33,350.83 L684.91,350.43 L685.48,349.95 L686.06,349.42 L686.64,348.88 L687.22,348.35 L687.79,347.87 L688.37,347.47 L688.95,347.16 L689.52,346.97 L690.10,346.90 L690.68,346.95 L691.25,347.08 L691.83,347.29 L692.41,347.57 L692.98,347.90 L693.56,348.26 L694.14,348.64 L694.72,349.00 L695.29,349.33 L695.87,349.61 L696.45,349.82 L697.02,349.95 L697.60,350.00 L698.17,349.98 L698.74,349.92 L699.31,349.81 L699.89,349.68 L700.46,349.52 L701.03,349.34 L701.60,349.15 L702.17,348.96 L702.74,348.78 L703.31,348.62 L703.89,348.49 L704.46,348.38 L705.03,348.32 L705.60,348.30 L706.18,348.33 L706.77,348.40 L707.35,348.52 L707.93,348.68 L708.52,348.86 L709.10,349.05 L709.68,349.24 L710.27,349.43 L710.85,349.58 L711.43,349.70 L712.02,349.77 L712.60,349.80 L713.19,349.77 L713.78,349.70 L714.38,349.58 L714.97,349.43 L715.56,349.24 L716.15,349.05 L716.74,348.86 L717.33,348.68 L717.93,348.52 L718.52,348.40 L719.11,348.33 L719.70,348.30 L720.28,348.33 L720.87,348.41 L721.45,348.55 L722.03,348.73 L722.62,348.93 L723.20,349.15 L723.78,349.37 L724.37,349.57 L724.95,349.75 L725.53,349.89 L726.12,349.97 L726.70,350.00 L727.28,349.97 L727.87,349.89 L728.45,349.77 L729.03,349.60 L729.62,349.41 L730.20,349.20 L730.78,348.99 L731.37,348.80 L731.95,348.63 L732.53,348.51 L733.12,348.43 L733.70,348.40 L734.30,348.43 L734.90,348.53 L735.50,348.68 L736.10,348.87 L736.70,349.09 L737.30,349.31 L737.90,349.53 L738.50,349.72 L739.10,349.87 L739.70,349.97 L740.30,350.00 L740.88,349.98 L741.45,349.91 L742.03,349.81 L742.61,349.68 L743.18,349.52 L743.76,349.34 L744.34,349.16 L744.92,348.98 L745.49,348.82 L746.07,348.69 L746.65,348.59 L747.22,348.52 L747.80,348.50 L748.36,348.53 L748.92,348.62 L749.48,348.77 L750.04,348.95 L750.60,349.15 L751.16,349.35 L751.72,349.53 L752.28,349.68 L752.84,349.77 L753.40,349.80 L753.99,349.80 L754.58,349.80 L755.17,349.80 L755.76,349.79 L756.35,349.79 L756.95,349.79 L757.54,349.78 L758.13,349.78 L758.72,349.78 L759.31,349.78 L759.90,349.78 L760.46,349.74 L761.01,349.64 L761.57,349.48 L762.12,349.27 L762.68,349.05 L763.23,348.82 L763.79,348.62 L764.34,348.46 L764.90,348.35 L765.45,348.32 L766.02,348.35 L766.58,348.43 L767.15,348.57 L767.72,348.74 L768.28,348.95 L768.85,349.17 L769.41,349.39 L769.98,349.59 L770.55,349.77 L771.11,349.90 L771.68,349.99 L772.24,350.02 L772.81,350.00 L773.37,349.94 L773.94,349.84 L774.50,349.72 L775.07,349.57 L775.63,349.41 L776.20,349.24 L776.76,349.08 L777.33,348.94 L777.90,348.81 L778.46,348.72 L779.03,348.66 L779.59,348.64 L780.19,348.67 L780.79,348.74 L781.40,348.87 L782.00,349.03 L782.60,349.22 L783.20,349.42 L783.80,349.62 L784.41,349.81 L785.01,349.97 L785.61,350.09 L786.21,350.17 L786.82,350.20 L787.41,350.16 L788.00,350.06 L788.60,349.90 L789.19,349.70 L789.78,349.47 L790.38,349.25 L790.97,349.05 L791.56,348.89 L792.16,348.78 L792.75,348.75 L793.31,348.77 L793.86,348.84 L794.41,348.94 L794.97,349.07 L795.52,349.22 L796.08,349.37 L796.63,349.52 L797.19,349.66 L797.74,349.76 L798.29,349.82 L798.85,349.84 L799.40,349.83 L799.96,349.77 L800.52,349.68 L801.07,349.57 L801.63,349.44 L802.18,349.29 L802.74,349.15 L803.29,349.02 L803.85,348.91 L804.41,348.82 L804.96,348.76 L805.52,348.74 L806.09,348.77 L806.67,348.83 L807.25,348.92 L807.82,349.05 L808.40,349.19 L808.98,349.34 L809.55,349.48 L810.13,349.60 L810.71,349.70 L811.28,349.76 L811.86,349.78 L812.47,349.76 L813.08,349.71 L813.68,349.62 L814.29,349.51 L814.90,349.37 L815.51,349.23 L816.12,349.09 L816.72,348.96 L817.33,348.85 L817.94,348.76 L818.55,348.71 L819.16,348.69 L819.74,348.72 L820.33,348.80 L820.91,348.92 L821.49,349.09 L822.08,349.27 L822.66,349.47 L823.24,349.65 L823.83,349.81 L824.41,349.94 L824.99,350.02 L825.58,350.05 L826.18,350.03 L826.79,349.96 L827.40,349.84 L828.01,349.70 L828.61,349.53 L829.22,349.35 L829.83,349.17 L830.44,349.00 L831.04,348.85 L831.65,348.74 L832.26,348.67 L832.86,348.65 L833.47,348.67 L834.08,348.74 L834.69,348.85 L835.30,348.99 L835.91,349.15 L836.52,349.32 L837.13,349.50 L837.74,349.66 L838.35,349.80 L838.96,349.91 L839.57,349.98 L840.18,350.00 L840.78,349.97 L841.37,349.89 L841.97,349.76 L842.57,349.59 L843.16,349.39 L843.76,349.19 L844.36,349.00 L844.95,348.83 L845.55,348.70 L846.14,348.61 L846.74,348.59 L847.30,348.62 L847.85,348.72 L848.41,348.87 L848.97,349.06 L849.52,349.27 L850.08,349.49 L850.63,349.68 L851.19,349.83 L851.75,349.93 L852.30,349.96 L852.89,349.94 L853.48,349.86 L854.07,349.74 L854.66,349.60 L855.24,349.43 L855.83,349.27 L856.42,349.12 L857.01,349.00 L857.60,348.92 L858.19,348.90 L858.78,348.91 L859.37,348.96 L859.96,349.03 L860.55,349.12 L861.14,349.23 L861.73,349.35 L862.32,349.47 L862.91,349.58 L863.50,349.67 L864.09,349.74 L864.68,349.79 L865.27,349.80 L865.66,349.77 L866.05,349.68 L866.43,349.55 L866.82,349.43 L867.21,349.33 L867.60,349.30 L867.90,349.88 L868.20,351.48 L868.50,353.65 L868.80,355.82 L869.10,357.42 L869.40,358.00 L869.62,352.34 L869.83,336.88 L870.05,315.75 L870.27,294.62 L870.48,279.16 L870.70,273.50 L871.27,274.89 L871.84,278.97 L872.41,285.51 L872.98,294.12 L873.55,304.32 L874.12,315.49 L874.68,327.01 L875.25,338.18 L875.82,348.38 L876.39,356.99 L876.96,363.53 L877.53,367.61 L878.10,369.00 L878.68,368.25 L879.26,366.05 L879.84,362.49 L880.42,357.72 L881.00,351.95 L881.58,345.44 L882.16,338.46 L882.74,331.34 L883.32,324.36 L883.90,317.85 L884.48,312.08 L885.06,307.31 L885.64,303.75 L886.22,301.55 L886.80,300.80 L887.38,301.56 L887.96,303.81 L888.54,307.42 L889.11,312.23 L889.69,317.98 L890.27,324.40 L890.85,331.15 L891.43,337.90 L892.01,344.32 L892.59,350.07 L893.16,354.88 L893.74,358.49 L894.32,360.74 L894.90,361.50 L895.48,361.16 L896.06,360.16 L896.64,358.55 L897.22,356.39 L897.80,353.78 L898.38,350.82 L898.96,347.66 L899.54,344.44 L900.12,341.28 L900.70,338.33 L901.28,335.71 L901.86,333.55 L902.44,331.94 L903.02,330.94 L903.60,330.60 L904.22,330.72 L904.84,331.07 L905.46,331.65 L906.08,332.44 L906.70,333.43 L907.31,334.59 L907.93,335.90 L908.55,337.33 L909.17,338.84 L909.79,340.41 L910.41,341.99 L911.03,343.56 L911.65,345.07 L912.27,346.50 L912.89,347.81 L913.50,348.97 L914.12,349.96 L914.74,350.75 L915.36,351.33 L915.98,351.68 L916.60,351.80 L917.22,351.58 L917.84,350.94 L918.46,349.89 L919.08,348.49 L919.70,346.80 L920.32,344.89 L920.94,342.85 L921.56,340.75 L922.18,338.71 L922.80,336.80 L923.42,335.11 L924.04,333.71 L924.66,332.66 L925.28,332.02 L925.90,331.80 L926.51,332.06 L927.11,332.84 L927.72,334.09 L928.33,335.75 L928.94,337.74 L929.54,339.96 L930.15,342.30 L930.76,344.64 L931.36,346.86 L931.97,348.85 L932.58,350.51 L933.19,351.76 L933.79,352.54 L934.40,352.80 L935.00,352.63 L935.60,352.11 L936.20,351.28 L936.80,350.18 L937.40,348.87 L938.00,347.40 L938.60,345.85 L939.20,344.30 L939.80,342.83 L940.40,341.52 L941.00,340.42 L941.60,339.59 L942.20,339.07 L942.80,338.90 L943.36,339.05 L943.93,339.50 L944.49,340.21 L945.05,341.12 L945.62,342.16 L946.18,343.24 L946.75,344.28 L947.31,345.19 L947.87,345.90 L948.44,346.35 L949.00,346.50 L949.63,346.50 L950.26,346.52 L950.89,346.54 L951.52,346.57 L952.15,346.60 L952.78,346.64 L953.41,346.69 L954.04,346.74 L954.67,346.80 L955.30,346.85 L955.93,346.90 L956.56,346.96 L957.19,347.01 L957.82,347.06 L958.45,347.10 L959.08,347.13 L959.71,347.16 L960.34,347.18 L960.97,347.20 L961.60,347.20 L962.15,347.16 L962.69,347.03 L963.24,346.82 L963.78,346.56 L964.33,346.26 L964.87,345.94 L965.42,345.64 L965.96,345.38 L966.51,345.17 L967.05,345.04 L967.60,345.00 L968.17,345.06 L968.74,345.25 L969.31,345.55 L969.89,345.94 L970.46,346.42 L971.03,346.94 L971.60,347.50 L972.17,348.06 L972.74,348.58 L973.31,349.06 L973.89,349.45 L974.46,349.75 L975.03,349.94 L975.60,350.00 L976.18,349.95 L976.75,349.82 L977.33,349.61 L977.91,349.33 L978.48,349.00 L979.06,348.64 L979.64,348.26 L980.22,347.90 L980.79,347.57 L981.37,347.29 L981.95,347.08 L982.52,346.95 L983.10,346.90 L983.68,346.94 L984.25,347.05 L984.83,347.23 L985.41,347.46 L985.98,347.74 L986.56,348.04 L987.14,348.36 L987.72,348.66 L988.29,348.94 L988.87,349.17 L989.45,349.35 L990.02,349.46 L990.60,349.50 L991.15,349.49 L991.70,349.46 L992.25,349.41 L992.80,349.35 L993.35,349.29 L993.90,349.24 L994.45,349.21 L995.00,349.20 L995.58,349.22 L996.15,349.27 L996.73,349.36 L997.30,349.47 L997.88,349.61 L998.45,349.75 L999.02,349.89 L999.60,350.02 L1000.17,350.14 L1000.75,350.23 L1001.32,350.28 L1001.90,350.30 L1002.49,350.25 L1003.08,350.10 L1003.67,349.87 L1004.26,349.57 L1004.85,349.23 L1005.45,348.87 L1006.04,348.53 L1006.63,348.23 L1007.22,348.00 L1007.81,347.85 L1008.40,347.80 L1008.99,347.82 L1009.57,347.88 L1010.16,347.97 L1010.75,348.09 L1011.34,348.24 L1011.92,348.42 L1012.51,348.60 L1013.10,348.80 L1013.69,349.00 L1014.27,349.18 L1014.86,349.36 L1015.45,349.51 L1016.04,349.63 L1016.62,349.72 L1017.21,349.78 L1017.80,349.80 L1018.41,349.77 L1019.02,349.70 L1019.62,349.57 L1020.23,349.41 L1020.84,349.22 L1021.45,349.01 L1022.05,348.79 L1022.66,348.58 L1023.27,348.39 L1023.88,348.23 L1024.48,348.10 L1025.09,348.03 L1025.70,348.00 L1026.25,348.04 L1026.81,348.16 L1027.36,348.35 L1027.92,348.58 L1028.47,348.86 L1029.03,349.14 L1029.58,349.42 L1030.14,349.65 L1030.69,349.84 L1031.25,349.96 L1031.80,350.00 L1032.39,349.97 L1032.98,349.89 L1033.58,349.75 L1034.17,349.57 L1034.76,349.37 L1035.35,349.15 L1035.94,348.93 L1036.53,348.73 L1037.12,348.55 L1037.72,348.41 L1038.31,348.33 L1038.90,348.30 L1039.49,348.33 L1040.08,348.40 L1040.68,348.52 L1041.27,348.68 L1041.86,348.86 L1042.45,349.05 L1043.04,349.24 L1043.63,349.43 L1044.22,349.58 L1044.82,349.70 L1045.41,349.77 L1046.00,349.80 L1046.58,349.78 L1047.17,349.72 L1047.75,349.62 L1048.33,349.50 L1048.92,349.36 L1049.50,349.20 L1050.08,349.04 L1050.67,348.90 L1051.25,348.78 L1051.83,348.68 L1052.42,348.62 L1053.00,348.60 L1053.58,348.62 L1054.17,348.67 L1054.75,348.75 L1055.33,348.85 L1055.92,348.97 L1056.50,349.10 L1057.08,349.23 L1057.67,349.35 L1058.25,349.45 L1058.83,349.53 L1059.42,349.58 L1060.00,349.60 L1060.58,349.58 L1061.17,349.54 L1061.75,349.47 L1062.33,349.38 L1062.92,349.27 L1063.50,349.15 L1064.08,349.03 L1064.67,348.93 L1065.25,348.83 L1065.83,348.76 L1066.42,348.72 L1067.00,348.70 L1067.58,348.71 L1068.17,348.74 L1068.75,348.79 L1069.33,348.85 L1069.92,348.92 L1070.50,349.00 L1071.08,349.08 L1071.67,349.15 L1072.25,349.21 L1072.83,349.26 L1073.42,349.29 L1074.00,349.30 L1074.56,349.31 L1075.12,349.33 L1075.69,349.37 L1076.25,349.42 L1076.81,349.46 L1077.38,349.50 L1077.94,349.53 L1078.50,349.54 L1079.07,349.50 L1079.64,349.41 L1080.22,349.28 L1080.79,349.12 L1081.36,348.96 L1081.93,348.83 L1082.50,348.74 L1083.08,348.70 L1083.64,348.73 L1084.21,348.81 L1084.77,348.93 L1085.34,349.07 L1085.90,349.21 L1086.47,349.33 L1087.04,349.41 L1087.60,349.43 L1088.14,349.42 L1088.69,349.36 L1089.23,349.28 L1089.77,349.19 L1090.31,349.08 L1090.86,348.99 L1091.40,348.91 L1091.94,348.85 L1092.48,348.84 L1093.06,348.85 L1093.63,348.90 L1094.20,348.96 L1094.78,349.04 L1095.35,349.12 L1095.92,349.19 L1096.49,349.23 L1097.07,349.25 L1097.59,349.22 L1098.12,349.13 L1098.64,349.00 L1099.17,348.84 L1099.69,348.69 L1100.22,348.56 L1100.74,348.47 L1101.27,348.44 L1101.83,348.47 L1102.39,348.58 L1102.96,348.75 L1103.52,348.94 L1104.08,349.13 L1104.65,349.29 L1105.21,349.40 L1105.78,349.44 L1106.31,349.40 L1106.85,349.31 L1107.39,349.17 L1107.93,348.99 L1108.47,348.80 L1109.01,348.62 L1109.55,348.48 L1110.09,348.39 L1110.63,348.35 L1111.18,348.39 L1111.73,348.52 L1112.29,348.70 L1112.84,348.91 L1113.39,349.12 L1113.94,349.30 L1114.50,349.43 L1115.05,349.47 L1115.61,349.43 L1116.18,349.34 L1116.74,349.20 L1117.30,349.03 L1117.87,348.86 L1118.43,348.72 L1118.99,348.63 L1119.56,348.59 L1120.09,348.62 L1120.62,348.68 L1121.14,348.79 L1121.67,348.91 L1122.20,349.05 L1122.73,349.18 L1123.26,349.28 L1123.79,349.35 L1124.32,349.37 L1124.89,349.34 L1125.45,349.26 L1126.02,349.14 L1126.59,348.99 L1127.16,348.85 L1127.73,348.72 L1128.29,348.64 L1128.86,348.61 L1129.43,348.64 L1129.99,348.72 L1130.56,348.84 L1131.13,348.99 L1131.69,349.15 L1132.26,349.29 L1132.83,349.41 L1133.39,349.49 L1133.96,349.52 L1134.51,349.48 L1135.07,349.38 L1135.63,349.22 L1136.18,349.03 L1136.74,348.82 L1137.30,348.63 L1137.85,348.47 L1138.41,348.37 L1138.97,348.33 L1139.49,348.38 L1140.01,348.50 L1140.53,348.67 L1141.05,348.89 L1141.58,349.10 L1142.10,349.27 L1142.62,349.39 L1143.14,349.44 L1143.71,349.40 L1144.28,349.31 L1144.84,349.18 L1145.41,349.01 L1145.97,348.83 L1146.54,348.66 L1147.11,348.52 L1147.67,348.43 L1148.24,348.40 L1148.74,348.43 L1149.24,348.51 L1149.74,348.64 L1150.25,348.78 L1150.75,348.93 L1151.25,349.06 L1151.75,349.14 L1152.25,349.17 L1152.80,349.16 L1153.36,349.13 L1153.91,349.08 L1154.46,349.01 L1155.01,348.95 L1155.57,348.90 L1156.12,348.87 L1156.67,348.86 L1157.19,348.87 L1157.71,348.90 L1158.23,348.95 L1158.75,349.00 L1159.27,349.06 L1159.79,349.10 L1160.30,349.13 L1160.82,349.14 L1161.35,349.12 L1161.87,349.06 L1162.40,348.97 L1162.92,348.85 L1163.45,348.72 L1163.98,348.61 L1164.50,348.51 L1165.03,348.45 L1165.55,348.43 L1166.11,348.45 L1166.67,348.52 L1167.23,348.62 L1167.79,348.74 L1168.35,348.88 L1168.91,349.00 L1169.47,349.10 L1170.03,349.17 L1170.59,349.19 L1171.12,349.17 L1171.65,349.11 L1172.18,349.02 L1172.72,348.91 L1173.25,348.79 L1173.78,348.68 L1174.31,348.58 L1174.85,348.52 L1175.38,348.50 L1175.88,348.55 L1176.38,348.67 L1176.89,348.85 L1177.39,349.07 L1177.89,349.28 L1178.39,349.46 L1178.89,349.59 L1179.40,349.63 L1179.97,349.60 L1180.54,349.53 L1181.11,349.41 L1181.68,349.27 L1182.25,349.12 L1182.82,348.98 L1183.39,348.87 L1183.96,348.79 L1184.53,348.77 L1185.10,348.79 L1185.66,348.84 L1186.23,348.91 L1186.80,349.00 L1187.37,349.10 L1187.94,349.20 L1188.50,349.27 L1189.07,349.32 L1189.64,349.34 L1190.20,349.30 L1190.76,349.19 L1191.32,349.02 L1191.88,348.82 L1192.44,348.62 L1193.00,348.46 L1193.56,348.35 L1194.12,348.31 L1194.67,348.33 L1195.22,348.41 L1195.77,348.53 L1196.32,348.67 L1196.87,348.83 L1197.42,348.97 L1197.97,349.09 L1198.52,349.17 L1199.07,349.20 L1199.62,349.17 L1200.17,349.11 L1200.72,349.01 L1201.27,348.89 L1201.83,348.78 L1202.38,348.68 L1202.93,348.61 L1203.48,348.59 L1204.01,348.61 L1204.55,348.68 L1205.08,348.78 L1205.62,348.90 L1206.16,349.02 L1206.69,349.13 L1207.23,349.19 L1207.76,349.22 L1208.29,349.19 L1208.82,349.11 L1209.36,348.99 L1209.89,348.84 L1210.42,348.70 L1210.95,348.58 L1211.48,348.50 L1212.02,348.47 L1212.57,348.51 L1213.12,348.65 L1213.67,348.84 L1214.22,349.06 L1214.77,349.25 L1215.32,349.38 L1215.87,349.43 L1216.42,349.41 L1216.97,349.35 L1217.52,349.26 L1218.08,349.16 L1218.63,349.06 L1219.18,348.97 L1219.73,348.91 L1220.29,348.89 L1220.82,348.91 L1221.36,348.97 L1221.89,349.07 L1222.42,349.18 L1222.96,349.29 L1223.49,349.39 L1224.03,349.45 L1224.56,349.47 L1225.12,349.45 L1225.69,349.38 L1226.25,349.29 L1226.82,349.17 L1227.38,349.05 L1227.95,348.95 L1228.51,348.88 L1229.08,348.86 L1229.65,348.88 L1230.22,348.94 L1230.79,349.04 L1231.37,349.16 L1231.94,349.28 L1232.51,349.40 L1233.09,349.49 L1233.66,349.55 L1234.23,349.57 L1234.80,349.55 L1235.37,349.49 L1235.94,349.39 L1236.51,349.27 L1237.08,349.14 L1237.66,349.02 L1238.23,348.92 L1238.80,348.86 L1239.37,348.84 L1239.89,348.85 L1240.41,348.88 L1240.94,348.93 L1241.46,348.98 L1241.98,349.04 L1242.51,349.08 L1243.03,349.11 L1243.55,349.12 L1244.09,349.11 L1244.63,349.08 L1245.18,349.03 L1245.72,348.96 L1246.26,348.90 L1246.80,348.83 L1247.34,348.78 L1247.89,348.75 L1248.43,348.74 L1249.00,348.77 L1249.57,348.85 L1250.14,348.98 L1250.71,349.11 L1251.28,349.24 L1251.86,349.32 L1252.43,349.35 L1252.61,349.33 L1252.79,349.27 L1252.96,349.18 L1253.14,349.09 L1253.32,349.02 L1253.50,349.00" fill="none" stroke="#0000d8" stroke-width="4.7" stroke-linejoin="round" clip-path="url(#c1)"/>
<path d="M100.30,638.60 L100.30,482.90 L102.00,482.90 L102.50,588.30 L109.50,588.60 L110.03,588.93 L110.55,589.89 L111.08,591.32 L111.60,593.00 L112.12,594.68 L112.65,596.11 L113.17,597.07 L113.70,597.40 L114.25,597.40 L114.79,597.40 L115.34,597.05 L115.88,596.11 L116.43,594.75 L116.97,593.25 L117.52,591.89 L118.06,590.95 L118.61,590.60 L119.15,590.60 L119.70,590.60 L120.27,590.60 L120.83,590.60 L121.40,590.75 L121.97,591.28 L122.53,592.11 L123.10,593.10 L123.67,594.09 L124.23,594.92 L124.80,595.45 L125.37,595.60 L125.93,595.60 L126.50,595.60 L127.05,595.60 L127.59,595.60 L128.14,595.40 L128.68,594.84 L129.23,594.04 L129.77,593.16 L130.32,592.36 L130.86,591.80 L131.41,591.60 L131.95,591.60 L132.50,591.60 L133.08,591.60 L133.65,591.60 L134.23,591.66 L134.81,591.96 L135.38,592.48 L135.96,593.14 L136.54,593.86 L137.12,594.52 L137.69,595.04 L138.27,595.34 L138.85,595.40 L139.42,595.40 L140.00,595.40 L140.55,595.40 L141.09,595.40 L141.64,595.23 L142.18,594.75 L142.73,594.08 L143.27,593.32 L143.82,592.65 L144.36,592.17 L144.91,592.00 L145.45,592.00 L146.00,592.00 L146.56,592.00 L147.12,592.00 L147.68,592.09 L148.23,592.43 L148.79,592.96 L149.35,593.60 L149.91,594.24 L150.47,594.77 L151.02,595.11 L151.58,595.20 L152.14,595.20 L152.70,595.20 L153.26,595.20 L153.82,595.20 L154.38,595.11 L154.93,594.79 L155.49,594.30 L156.05,593.70 L156.61,593.10 L157.17,592.61 L157.72,592.29 L158.28,592.20 L158.84,592.20 L159.40,592.20 L159.97,592.20 L160.53,592.20 L161.10,592.28 L161.67,592.56 L162.23,593.01 L162.80,593.55 L163.37,594.09 L163.93,594.54 L164.50,594.82 L165.07,594.90 L165.63,594.90 L166.20,594.90 L166.76,594.90 L167.32,594.90 L167.88,594.83 L168.43,594.58 L168.99,594.18 L169.55,593.70 L170.11,593.22 L170.67,592.82 L171.22,592.57 L171.78,592.50 L172.34,592.50 L172.90,592.50 L173.50,592.50 L174.10,592.50 L174.70,592.61 L175.30,592.90 L175.90,593.32 L176.50,593.78 L177.10,594.20 L177.70,594.49 L178.30,594.60 L178.90,594.60 L179.50,594.60 L180.09,594.60 L180.68,594.60 L181.27,594.50 L181.86,594.24 L182.45,593.86 L183.05,593.44 L183.64,593.06 L184.23,592.80 L184.82,592.70 L185.41,592.70 L186.00,592.70 L186.58,592.70 L187.17,592.70 L187.75,592.75 L188.33,592.93 L188.92,593.21 L189.50,593.55 L190.08,593.89 L190.67,594.17 L191.25,594.35 L191.83,594.40 L192.42,594.40 L193.00,594.40 L193.58,594.40 L194.17,594.40 L194.75,594.36 L195.33,594.20 L195.92,593.95 L196.50,593.65 L197.08,593.35 L197.67,593.10 L198.25,592.94 L198.83,592.90 L199.42,592.90 L200.00,592.90 L200.58,592.90 L201.17,592.90 L201.75,592.94 L202.33,593.06 L202.92,593.26 L203.50,593.50 L204.08,593.74 L204.67,593.94 L205.25,594.06 L205.83,594.10 L206.42,594.10 L207.00,594.10 L207.58,594.10 L208.17,594.10 L208.75,594.07 L209.33,593.96 L209.92,593.80 L210.50,593.60 L211.08,593.40 L211.67,593.24 L212.25,593.13 L212.83,593.10 L213.42,593.10 L214.00,593.10 L214.57,593.10 L215.14,593.10 L215.71,593.11 L216.29,593.15 L216.86,593.24 L217.43,593.36 L218.00,593.50 L218.57,593.64 L219.14,593.76 L219.71,593.85 L220.29,593.89 L220.86,593.90 L221.43,593.90 L222.00,593.90 L222.57,593.90 L223.14,593.90 L223.71,593.90 L224.29,593.86 L224.86,593.79 L225.43,593.70 L226.00,593.60 L226.57,593.50 L227.14,593.41 L227.71,593.34 L228.29,593.30 L228.86,593.30 L229.43,593.30 L230.00,593.30 L230.56,593.33 L231.12,593.41 L231.69,593.53 L232.25,593.67 L232.81,593.81 L233.38,593.93 L233.94,594.01 L234.50,594.04 L235.02,594.01 L235.54,593.91 L236.07,593.77 L236.59,593.60 L237.11,593.43 L237.63,593.29 L238.15,593.19 L238.67,593.16 L239.24,593.18 L239.80,593.25 L240.36,593.34 L240.93,593.46 L241.49,593.59 L242.05,593.71 L242.61,593.81 L243.18,593.87 L243.74,593.89 L244.27,593.87 L244.80,593.81 L245.33,593.72 L245.86,593.60 L246.39,593.48 L246.92,593.37 L247.45,593.28 L247.98,593.22 L248.51,593.20 L249.07,593.23 L249.63,593.34 L250.18,593.49 L250.74,593.66 L251.30,593.82 L251.86,593.92 L252.41,593.96 L252.96,593.93 L253.51,593.85 L254.06,593.73 L254.61,593.58 L255.16,593.44 L255.71,593.32 L256.26,593.24 L256.81,593.21 L257.38,593.23 L257.94,593.29 L258.51,593.39 L259.08,593.51 L259.64,593.63 L260.21,593.75 L260.77,593.85 L261.34,593.91 L261.90,593.93 L262.45,593.91 L262.99,593.85 L263.54,593.75 L264.09,593.63 L264.63,593.50 L265.18,593.38 L265.72,593.29 L266.27,593.22 L266.81,593.20 L267.36,593.21 L267.92,593.25 L268.47,593.30 L269.03,593.36 L269.58,593.43 L270.13,593.49 L270.69,593.54 L271.24,593.58 L271.79,593.59 L272.35,593.57 L272.90,593.52 L273.46,593.44 L274.01,593.34 L274.56,593.23 L275.12,593.13 L275.67,593.05 L276.23,593.00 L276.78,592.98 L277.32,593.01 L277.85,593.11 L278.39,593.26 L278.92,593.43 L279.46,593.60 L279.99,593.75 L280.53,593.85 L281.06,593.88 L281.63,593.86 L282.19,593.79 L282.76,593.68 L283.32,593.55 L283.88,593.42 L284.45,593.29 L285.01,593.18 L285.58,593.11 L286.14,593.09 L286.71,593.13 L287.28,593.24 L287.85,593.39 L288.43,593.56 L289.00,593.72 L289.57,593.83 L290.14,593.87 L290.66,593.84 L291.18,593.77 L291.70,593.66 L292.21,593.53 L292.73,593.39 L293.25,593.28 L293.77,593.21 L294.29,593.18 L294.79,593.20 L295.30,593.24 L295.80,593.31 L296.31,593.38 L296.81,593.46 L297.32,593.52 L297.82,593.57 L298.33,593.58 L298.84,593.56 L299.35,593.50 L299.87,593.42 L300.38,593.32 L300.89,593.22 L301.40,593.14 L301.92,593.08 L302.43,593.06 L302.96,593.10 L303.49,593.20 L304.02,593.35 L304.55,593.53 L305.08,593.71 L305.61,593.87 L306.13,593.97 L306.66,594.01 L307.19,593.97 L307.72,593.85 L308.25,593.68 L308.77,593.48 L309.30,593.28 L309.83,593.10 L310.35,592.99 L310.88,592.95 L311.39,592.98 L311.90,593.07 L312.41,593.20 L312.91,593.35 L313.42,593.51 L313.93,593.64 L314.44,593.73 L314.95,593.76 L315.50,593.73 L316.05,593.63 L316.60,593.50 L317.15,593.36 L317.70,593.22 L318.25,593.13 L318.80,593.10 L319.34,593.14 L319.89,593.27 L320.44,593.45 L320.99,593.64 L321.54,593.82 L322.09,593.95 L322.64,593.99 L323.21,593.96 L323.78,593.86 L324.35,593.73 L324.93,593.56 L325.50,593.40 L326.07,593.26 L326.64,593.17 L327.21,593.14 L327.77,593.17 L328.33,593.28 L328.88,593.44 L329.44,593.62 L330.00,593.81 L330.56,593.97 L331.12,594.07 L331.68,594.11 L332.24,594.04 L332.81,593.86 L333.38,593.59 L333.94,593.28 L334.51,593.01 L335.08,592.83 L335.64,592.76 L336.20,592.80 L336.75,592.92 L337.30,593.09 L337.85,593.30 L338.40,593.51 L338.95,593.69 L339.50,593.81 L340.05,593.85 L340.60,593.82 L341.15,593.75 L341.70,593.64 L342.25,593.50 L342.80,593.36 L343.35,593.22 L343.90,593.11 L344.45,593.04 L345.00,593.01 L345.57,593.05 L346.13,593.15 L346.70,593.31 L347.26,593.49 L347.82,593.67 L348.39,593.82 L348.95,593.93 L349.51,593.96 L350.09,593.93 L350.66,593.86 L351.23,593.73 L351.80,593.58 L352.38,593.42 L352.95,593.27 L353.52,593.15 L354.09,593.07 L354.66,593.04 L355.21,593.07 L355.76,593.15 L356.31,593.28 L356.86,593.43 L357.41,593.59 L357.96,593.74 L358.51,593.87 L359.06,593.95 L359.61,593.97 L360.13,593.94 L360.65,593.86 L361.17,593.73 L361.70,593.57 L362.22,593.41 L362.74,593.25 L363.26,593.12 L363.78,593.04 L364.30,593.01 L364.83,593.03 L365.37,593.09 L365.91,593.18 L366.44,593.29 L366.98,593.41 L367.52,593.50 L368.05,593.56 L368.59,593.58 L369.09,593.57 L369.59,593.53 L370.09,593.47 L370.59,593.40 L371.09,593.32 L371.59,593.26 L372.09,593.22 L372.59,593.21 L373.13,593.22 L373.66,593.27 L374.20,593.33 L374.74,593.41 L375.27,593.50 L375.81,593.58 L376.34,593.65 L376.88,593.69 L377.42,593.70 L377.92,593.68 L378.43,593.63 L378.93,593.55 L379.44,593.45 L379.95,593.35 L380.45,593.27 L380.96,593.22 L381.46,593.20 L382.01,593.23 L382.56,593.30 L383.12,593.42 L383.67,593.56 L384.22,593.71 L384.77,593.85 L385.32,593.97 L385.87,594.05 L386.42,594.07 L386.95,594.04 L387.47,593.96 L388.00,593.82 L388.53,593.66 L389.05,593.49 L389.58,593.33 L390.10,593.20 L390.63,593.11 L391.15,593.08 L391.67,593.11 L392.19,593.18 L392.71,593.28 L393.23,593.40 L393.75,593.53 L394.27,593.63 L394.79,593.70 L395.31,593.73 L395.86,593.70 L396.42,593.64 L396.97,593.55 L397.53,593.44 L398.08,593.33 L398.64,593.24 L399.19,593.18 L399.75,593.16 L400.30,593.18 L400.86,593.24 L401.41,593.33 L401.96,593.43 L402.52,593.54 L403.07,593.63 L403.62,593.69 L404.18,593.71 L404.75,593.68 L405.32,593.59 L405.89,593.45 L406.45,593.28 L407.02,593.10 L407.59,592.93 L408.16,592.79 L408.73,592.70 L409.30,592.67 L409.87,592.71 L410.44,592.82 L411.01,592.98 L411.58,593.18 L412.15,593.38 L412.72,593.55 L413.29,593.66 L413.86,593.70 L414.43,593.68 L415.00,593.62 L415.57,593.54 L416.14,593.44 L416.71,593.33 L417.28,593.22 L417.85,593.14 L418.42,593.08 L418.99,593.06 L419.53,593.08 L420.07,593.14 L420.61,593.21 L421.15,593.31 L421.68,593.40 L422.22,593.48 L422.76,593.53 L423.30,593.55 L423.84,593.53 L424.38,593.46 L424.93,593.37 L425.47,593.26 L426.01,593.15 L426.55,593.05 L427.10,592.99 L427.64,592.97 L428.20,592.99 L428.77,593.07 L429.33,593.18 L429.89,593.32 L430.45,593.45 L431.02,593.57 L431.58,593.64 L432.14,593.67 L432.71,593.65 L433.27,593.61 L433.83,593.54 L434.40,593.46 L434.96,593.38 L435.52,593.31 L436.09,593.26 L436.65,593.25 L437.17,593.26 L437.69,593.30 L438.22,593.36 L438.74,593.43 L439.26,593.49 L439.79,593.55 L440.31,593.59 L440.83,593.60 L441.38,593.59 L441.92,593.55 L442.47,593.49 L443.01,593.41 L443.56,593.34 L444.10,593.28 L444.65,593.24 L445.20,593.22 L445.75,593.25 L446.30,593.32 L446.85,593.42 L447.40,593.54 L447.95,593.64 L448.50,593.71 L449.05,593.73 L449.57,593.70 L450.09,593.61 L450.60,593.48 L451.12,593.32 L451.64,593.16 L452.16,593.02 L452.67,592.93 L453.19,592.90 L453.76,592.94 L454.33,593.06 L454.89,593.24 L455.46,593.45 L456.03,593.66 L456.59,593.84 L457.16,593.96 L457.73,594.00 L458.25,593.96 L458.78,593.86 L459.30,593.71 L459.82,593.51 L460.35,593.31 L460.87,593.12 L461.40,592.96 L461.92,592.86 L462.44,592.82 L463.00,592.85 L463.56,592.93 L464.11,593.06 L464.67,593.22 L465.23,593.39 L465.78,593.54 L466.34,593.67 L466.90,593.75 L467.45,593.78 L467.99,593.74 L468.52,593.62 L469.05,593.44 L469.59,593.22 L470.12,593.01 L470.65,592.82 L471.19,592.70 L471.72,592.66 L472.22,592.71 L472.73,592.85 L473.23,593.07 L473.73,593.32 L474.24,593.58 L474.74,593.79 L475.24,593.93 L475.75,593.98 L476.27,593.96 L476.79,593.90 L477.31,593.79 L477.83,593.67 L478.35,593.54 L478.88,593.41 L479.40,593.31 L479.92,593.25 L480.44,593.22 L480.95,593.24 L481.46,593.27 L481.97,593.31 L482.48,593.36 L482.99,593.39 L483.50,593.40 L484.00,593.40 L485.00,502.90 L485.60,488.90 L487.24,488.90 L486.76,652.60 L494.22,652.60 L495.18,488.90 L502.29,488.90 L503.61,652.60 L511.51,652.60 L513.69,488.90 L520.57,488.90 L523.23,652.60 L528.59,652.60 L529.91,488.90 L533.34,488.90 L537.56,652.60 L541.90,639.10 L542.44,614.93 L542.98,591.69 L543.51,570.26 L544.05,551.49 L544.59,536.08 L545.12,524.63 L545.66,517.58 L546.20,515.20 L546.77,517.43 L547.33,523.95 L547.90,534.33 L548.47,547.86 L549.03,563.61 L549.60,580.52 L550.17,597.42 L550.73,613.18 L551.30,626.71 L551.87,637.09 L552.43,643.61 L553.00,645.84 L553.61,643.49 L554.22,636.60 L554.83,625.65 L555.43,611.38 L556.04,594.76 L556.65,576.92 L557.26,559.08 L557.87,542.46 L558.47,528.19 L559.08,517.23 L559.69,510.35 L560.30,508.00 L560.91,509.98 L561.52,515.79 L562.12,525.10 L562.73,537.38 L563.34,551.90 L563.95,567.82 L564.55,584.21 L565.16,600.13 L565.77,614.65 L566.38,626.92 L566.98,636.24 L567.59,642.05 L568.20,644.03 L568.79,642.01 L569.38,636.10 L569.97,626.80 L570.56,614.85 L571.15,601.22 L571.75,587.01 L572.34,573.38 L572.93,561.43 L573.52,552.12 L574.11,546.22 L574.70,544.20 L575.31,545.58 L575.92,549.63 L576.53,556.06 L577.13,564.45 L577.74,574.22 L578.35,584.70 L578.96,595.18 L579.57,604.95 L580.17,613.34 L580.78,619.77 L581.39,623.82 L582.00,625.20 L582.60,624.09 L583.20,620.84 L583.80,615.67 L584.40,608.93 L585.00,601.07 L585.60,592.65 L586.20,584.23 L586.80,576.38 L587.40,569.63 L588.00,564.46 L588.60,561.21 L589.20,560.10 L589.79,561.40 L590.38,565.20 L590.97,571.20 L591.56,578.89 L592.15,587.67 L592.75,596.83 L593.34,605.61 L593.93,613.30 L594.52,619.30 L595.11,623.10 L595.70,624.40 L596.31,623.29 L596.92,620.05 L597.53,614.88 L598.13,608.15 L598.74,600.31 L599.35,591.90 L599.96,583.49 L600.57,575.65 L601.17,568.92 L601.78,563.75 L602.39,560.51 L603.00,559.40 L603.61,560.30 L604.22,562.96 L604.82,567.21 L605.43,572.81 L606.04,579.44 L606.65,586.71 L607.25,594.19 L607.86,601.46 L608.47,608.09 L609.08,613.69 L609.68,617.94 L610.29,620.60 L610.90,621.50 L611.49,620.43 L612.08,617.32 L612.67,612.41 L613.26,606.10 L613.85,598.90 L614.45,591.40 L615.04,584.20 L615.63,577.89 L616.22,572.98 L616.81,569.87 L617.40,568.80 L617.97,569.33 L618.54,570.91 L619.11,573.45 L619.69,576.82 L620.26,580.86 L620.83,585.36 L621.40,590.10 L621.97,594.84 L622.54,599.34 L623.11,603.38 L623.69,606.75 L624.26,609.29 L624.83,610.87 L625.40,611.40 L626.00,610.70 L626.60,608.65 L627.20,605.41 L627.80,601.26 L628.40,596.52 L629.00,591.58 L629.60,586.84 L630.20,582.69 L630.80,579.45 L631.40,577.40 L632.00,576.70 L632.59,577.24 L633.18,578.82 L633.77,581.34 L634.37,584.62 L634.96,588.45 L635.55,592.55 L636.14,596.65 L636.73,600.48 L637.33,603.76 L637.92,606.28 L638.51,607.86 L639.10,608.40 L639.68,607.91 L640.27,606.46 L640.85,604.17 L641.43,601.17 L642.02,597.69 L642.60,593.95 L643.18,590.21 L643.77,586.73 L644.35,583.73 L644.93,581.44 L645.52,579.99 L646.10,579.50 L646.68,579.96 L647.27,581.31 L647.85,583.45 L648.43,586.25 L649.02,589.51 L649.60,593.00 L650.18,596.49 L650.77,599.75 L651.35,602.55 L651.93,604.69 L652.52,606.04 L653.10,606.50 L653.67,606.20 L654.24,605.30 L654.81,603.86 L655.39,601.94 L655.96,599.65 L656.53,597.09 L657.10,594.40 L657.67,591.71 L658.24,589.15 L658.81,586.86 L659.39,584.94 L659.96,583.50 L660.53,582.60 L661.10,582.30 L661.68,582.61 L662.25,583.53 L662.83,584.99 L663.41,586.92 L663.98,589.21 L664.56,591.71 L665.14,594.29 L665.72,596.79 L666.29,599.08 L666.87,601.01 L667.45,602.47 L668.02,603.39 L668.60,603.70 L669.18,603.39 L669.77,602.49 L670.35,601.05 L670.93,599.18 L671.52,596.99 L672.10,594.65 L672.68,592.31 L673.27,590.12 L673.85,588.25 L674.43,586.81 L675.02,585.91 L675.60,585.60 L676.18,585.86 L676.77,586.62 L677.35,587.84 L677.93,589.42 L678.52,591.27 L679.10,593.25 L679.68,595.23 L680.27,597.07 L680.85,598.66 L681.43,599.88 L682.02,600.64 L682.60,600.90 L683.17,600.74 L683.74,600.26 L684.31,599.49 L684.89,598.47 L685.46,597.25 L686.03,595.89 L686.60,594.45 L687.17,593.01 L687.74,591.65 L688.31,590.43 L688.89,589.41 L689.46,588.64 L690.03,588.16 L690.60,588.00 L691.18,588.19 L691.77,588.74 L692.35,589.61 L692.93,590.75 L693.52,592.08 L694.10,593.50 L694.68,594.92 L695.27,596.25 L695.85,597.39 L696.43,598.26 L697.02,598.81 L697.60,599.00 L698.19,598.84 L698.78,598.38 L699.38,597.65 L699.97,596.70 L700.56,595.59 L701.15,594.40 L701.74,593.21 L702.33,592.10 L702.93,591.15 L703.52,590.42 L704.11,589.96 L704.70,589.80 L705.31,589.91 L705.92,590.25 L706.52,590.78 L707.13,591.48 L707.74,592.32 L708.35,593.23 L708.95,594.17 L709.56,595.08 L710.17,595.92 L710.78,596.62 L711.38,597.15 L711.99,597.49 L712.60,597.60 L713.19,597.48 L713.78,597.14 L714.38,596.60 L714.97,595.90 L715.56,595.08 L716.15,594.20 L716.74,593.32 L717.33,592.50 L717.93,591.80 L718.52,591.26 L719.11,590.92 L719.70,590.80 L720.28,590.89 L720.87,591.13 L721.45,591.53 L722.03,592.05 L722.62,592.65 L723.20,593.30 L723.78,593.95 L724.37,594.55 L724.95,595.07 L725.53,595.47 L726.12,595.71 L726.70,595.80 L727.27,595.75 L727.84,595.59 L728.41,595.34 L728.99,595.01 L729.56,594.61 L730.13,594.17 L730.70,593.70 L731.27,593.23 L731.84,592.79 L732.41,592.39 L732.99,592.06 L733.56,591.81 L734.13,591.65 L734.70,591.60 L735.27,591.67 L735.83,591.89 L736.40,592.24 L736.97,592.70 L737.53,593.23 L738.10,593.80 L738.67,594.37 L739.23,594.90 L739.80,595.36 L740.37,595.71 L740.93,595.93 L741.50,596.00 L742.08,595.94 L742.67,595.77 L743.25,595.48 L743.84,595.11 L744.42,594.68 L745.01,594.20 L745.59,593.70 L746.18,593.22 L746.76,592.79 L747.35,592.42 L747.93,592.13 L748.52,591.96 L749.10,591.90 L749.68,591.96 L750.27,592.12 L750.85,592.38 L751.44,592.72 L752.02,593.13 L752.61,593.57 L753.19,594.03 L753.78,594.47 L754.36,594.88 L754.95,595.22 L755.53,595.48 L756.12,595.64 L756.70,595.70 L757.28,595.64 L757.87,595.48 L758.45,595.22 L759.03,594.88 L759.62,594.48 L760.20,594.05 L760.78,593.62 L761.37,593.23 L761.95,592.88 L762.53,592.62 L763.12,592.46 L763.70,592.40 L764.28,592.44 L764.87,592.55 L765.45,592.73 L766.04,592.96 L766.62,593.24 L767.21,593.54 L767.79,593.86 L768.38,594.16 L768.96,594.44 L769.55,594.67 L770.13,594.85 L770.72,594.96 L771.30,595.00 L771.91,594.97 L772.52,594.87 L773.12,594.71 L773.73,594.50 L774.34,594.26 L774.95,594.00 L775.56,593.74 L776.17,593.50 L776.77,593.29 L777.38,593.13 L777.99,593.03 L778.60,593.00 L779.17,593.02 L779.74,593.09 L780.31,593.20 L780.88,593.35 L781.45,593.52 L782.02,593.70 L782.58,593.90 L783.15,594.08 L783.72,594.25 L784.29,594.40 L784.86,594.51 L785.43,594.58 L786.00,594.60 L786.58,594.58 L787.17,594.51 L787.75,594.39 L788.33,594.25 L788.92,594.08 L789.50,593.90 L790.08,593.72 L790.67,593.55 L791.25,593.41 L791.83,593.29 L792.42,593.22 L793.00,593.20 L793.58,593.22 L794.17,593.29 L794.75,593.39 L795.33,593.52 L795.92,593.68 L796.50,593.85 L797.08,594.02 L797.67,594.17 L798.25,594.31 L798.83,594.41 L799.42,594.48 L800.00,594.50 L800.57,594.49 L801.14,594.45 L801.71,594.39 L802.29,594.31 L802.86,594.22 L803.43,594.11 L804.00,594.00 L804.57,593.89 L805.14,593.78 L805.71,593.69 L806.29,593.61 L806.86,593.55 L807.43,593.51 L808.00,593.50 L808.56,593.53 L809.12,593.61 L809.69,593.73 L810.25,593.87 L810.81,594.01 L811.38,594.13 L811.94,594.21 L812.50,594.24 L813.02,594.20 L813.54,594.10 L814.06,593.94 L814.58,593.75 L815.10,593.55 L815.61,593.35 L816.13,593.20 L816.65,593.10 L817.17,593.06 L817.72,593.08 L818.27,593.14 L818.81,593.24 L819.36,593.36 L819.91,593.48 L820.45,593.60 L821.00,593.70 L821.55,593.76 L822.09,593.78 L822.66,593.76 L823.23,593.70 L823.79,593.60 L824.36,593.49 L824.93,593.38 L825.49,593.28 L826.06,593.22 L826.63,593.20 L827.18,593.23 L827.73,593.31 L828.28,593.44 L828.83,593.60 L829.38,593.78 L829.93,593.94 L830.48,594.07 L831.03,594.15 L831.58,594.18 L832.13,594.15 L832.68,594.06 L833.22,593.92 L833.77,593.76 L834.32,593.58 L834.87,593.41 L835.42,593.27 L835.97,593.18 L836.52,593.15 L837.08,593.18 L837.64,593.26 L838.20,593.39 L838.75,593.55 L839.31,593.71 L839.87,593.87 L840.43,594.00 L840.99,594.08 L841.55,594.11 L842.08,594.09 L842.61,594.02 L843.14,593.92 L843.66,593.80 L844.19,593.67 L844.72,593.55 L845.25,593.45 L845.78,593.38 L846.31,593.36 L846.86,593.38 L847.41,593.44 L847.97,593.52 L848.52,593.62 L849.07,593.70 L849.62,593.76 L850.18,593.78 L850.72,593.77 L851.25,593.73 L851.79,593.67 L852.33,593.61 L852.87,593.54 L853.41,593.49 L853.95,593.45 L854.49,593.44 L855.04,593.46 L855.59,593.51 L856.14,593.59 L856.69,593.68 L857.24,593.79 L857.79,593.89 L858.34,593.97 L858.89,594.02 L859.44,594.04 L859.96,594.01 L860.48,593.93 L861.00,593.81 L861.52,593.66 L862.04,593.50 L862.56,593.35 L863.08,593.23 L863.60,593.15 L864.11,593.12 L864.64,593.15 L865.17,593.23 L865.70,593.34 L866.22,593.48 L866.75,593.63 L867.28,593.78 L867.80,593.89 L868.33,593.97 L868.86,593.99 L868.97,593.97 L869.07,593.90 L869.18,593.80 L869.29,593.70 L869.39,593.63 L869.50,593.60 L869.70,593.40" fill="none" stroke="#0000d8" stroke-width="4.7" stroke-linejoin="round" clip-path="url(#c2)"/>
<path d="M869.70,593.40 L869.70,639.80 L1253.50,639.80" fill="none" stroke="#0000d8" stroke-width="4.7" stroke-linejoin="round"/>
<path d="M100.30,882.80 L100.30,727.10 L102.00,727.10 L102.50,812.00 L102.92,812.94 L103.33,815.50 L103.75,819.00 L104.17,822.50 L104.58,825.06 L105.00,826.00 L105.50,826.96 L106.00,829.63 L106.50,833.50 L107.00,837.80 L107.50,841.67 L108.00,844.34 L108.50,845.30 L109.06,845.30 L109.62,844.97 L110.19,842.90 L110.75,839.65 L111.31,836.40 L111.88,834.33 L112.44,834.00 L113.00,834.00 L113.57,834.00 L114.14,834.00 L114.71,834.09 L115.28,834.58 L115.85,835.41 L116.42,836.48 L116.98,837.62 L117.55,838.69 L118.12,839.52 L118.69,840.01 L119.26,840.10 L119.83,840.10 L120.40,840.10 L120.97,840.10 L121.53,840.10 L122.10,839.92 L122.67,839.28 L123.23,838.26 L123.80,837.05 L124.37,835.84 L124.93,834.82 L125.50,834.18 L126.07,834.00 L126.63,834.00 L127.20,834.00 L127.80,834.00 L128.40,834.01 L129.00,834.51 L129.60,835.59 L130.20,837.00 L130.80,838.41 L131.40,839.49 L132.00,839.99 L132.60,840.00 L133.20,840.00 L133.76,840.00 L134.32,840.00 L134.88,839.82 L135.43,839.19 L135.99,838.19 L136.55,837.00 L137.11,835.81 L137.67,834.81 L138.22,834.18 L138.78,834.00 L139.34,834.00 L139.90,834.00 L140.45,834.00 L140.99,834.00 L141.54,834.31 L142.08,835.14 L142.63,836.34 L143.17,837.66 L143.72,838.86 L144.26,839.69 L144.81,840.00 L145.35,840.00 L145.90,840.00 L146.46,840.00 L147.02,840.00 L147.57,839.83 L148.13,839.22 L148.69,838.25 L149.25,837.10 L149.81,835.95 L150.37,834.98 L150.93,834.37 L151.48,834.20 L152.04,834.20 L152.60,834.20 L153.17,834.20 L153.73,834.20 L154.30,834.36 L154.87,834.96 L155.43,835.89 L156.00,837.00 L156.57,838.11 L157.13,839.04 L157.70,839.64 L158.27,839.80 L158.83,839.80 L159.40,839.80 L159.95,839.80 L160.49,839.80 L161.04,839.53 L161.58,838.78 L162.13,837.70 L162.67,836.50 L163.22,835.42 L163.76,834.67 L164.31,834.40 L164.85,834.40 L165.40,834.40 L165.97,834.40 L166.54,834.40 L167.11,834.48 L167.68,834.89 L168.25,835.60 L168.82,836.51 L169.38,837.49 L169.95,838.40 L170.52,839.11 L171.09,839.52 L171.66,839.60 L172.23,839.60 L172.80,839.60 L173.35,839.60 L173.89,839.60 L174.44,839.35 L174.98,838.65 L175.53,837.65 L176.07,836.55 L176.62,835.55 L177.16,834.85 L177.71,834.60 L178.25,834.60 L178.80,834.60 L179.40,834.60 L180.00,834.60 L180.60,834.74 L181.20,835.25 L181.80,836.05 L182.40,837.00 L183.00,837.95 L183.60,838.75 L184.20,839.26 L184.80,839.40 L185.40,839.40 L186.00,839.40 L186.58,839.40 L187.17,839.40 L187.75,839.27 L188.33,838.81 L188.92,838.08 L189.50,837.20 L190.08,836.32 L190.67,835.59 L191.25,835.13 L191.83,835.00 L192.42,835.00 L193.00,835.00 L193.58,835.00 L194.17,835.00 L194.75,835.12 L195.33,835.54 L195.92,836.20 L196.50,837.00 L197.08,837.80 L197.67,838.46 L198.25,838.88 L198.83,839.00 L199.42,839.00 L200.00,839.00 L200.55,839.00 L201.09,839.00 L201.64,838.81 L202.18,838.30 L202.73,837.56 L203.27,836.74 L203.82,836.00 L204.36,835.49 L204.91,835.30 L205.45,835.30 L206.00,835.30 L206.58,835.30 L207.17,835.30 L207.75,835.40 L208.33,835.75 L208.92,836.29 L209.50,836.95 L210.08,837.61 L210.67,838.15 L211.25,838.50 L211.83,838.60 L212.42,838.60 L213.00,838.60 L213.58,838.60 L214.17,838.60 L214.75,838.51 L215.33,838.19 L215.92,837.70 L216.50,837.10 L217.08,836.50 L217.67,836.01 L218.25,835.69 L218.83,835.60 L219.42,835.60 L220.00,835.60 L220.58,835.60 L221.17,835.60 L221.75,835.68 L222.33,835.96 L222.92,836.41 L223.50,836.95 L224.08,837.49 L224.67,837.94 L225.25,838.22 L225.83,838.30 L226.42,838.30 L227.00,838.30 L227.57,838.30 L228.14,838.30 L228.71,838.28 L229.29,838.14 L229.86,837.86 L230.43,837.48 L231.00,837.05 L231.57,836.62 L232.14,836.24 L232.71,835.96 L233.29,835.82 L233.86,835.80 L234.43,835.80 L235.00,835.80 L235.57,835.80 L236.14,835.80 L236.71,835.81 L237.29,835.92 L237.86,836.12 L238.43,836.39 L239.00,836.70 L239.57,837.01 L240.14,837.28 L240.71,837.48 L241.29,837.59 L241.86,837.60 L242.43,837.60 L243.00,837.60 L243.56,837.58 L244.12,837.53 L244.69,837.45 L245.25,837.36 L245.81,837.27 L246.38,837.20 L246.94,837.15 L247.50,837.13 L248.04,837.10 L248.57,837.00 L249.11,836.86 L249.65,836.68 L250.19,836.49 L250.72,836.32 L251.26,836.17 L251.80,836.08 L252.34,836.05 L252.90,836.09 L253.47,836.19 L254.04,836.36 L254.61,836.55 L255.18,836.74 L255.75,836.90 L256.31,837.01 L256.88,837.05 L257.44,836.99 L258.00,836.83 L258.56,836.60 L259.12,836.35 L259.68,836.12 L260.24,835.96 L260.80,835.91 L261.32,835.94 L261.84,836.02 L262.36,836.15 L262.88,836.30 L263.40,836.45 L263.92,836.58 L264.44,836.66 L264.96,836.69 L265.49,836.66 L266.01,836.58 L266.53,836.45 L267.05,836.30 L267.58,836.15 L268.10,836.03 L268.62,835.94 L269.15,835.91 L269.66,835.96 L270.17,836.09 L270.68,836.28 L271.20,836.50 L271.71,836.73 L272.22,836.92 L272.74,837.05 L273.25,837.09 L273.82,837.06 L274.39,836.97 L274.96,836.83 L275.53,836.66 L276.10,836.48 L276.68,836.31 L277.25,836.18 L277.82,836.08 L278.39,836.05 L278.93,836.09 L279.48,836.18 L280.02,836.33 L280.56,836.50 L281.10,836.66 L281.65,836.81 L282.19,836.90 L282.73,836.94 L283.26,836.91 L283.79,836.81 L284.31,836.68 L284.84,836.50 L285.37,836.32 L285.90,836.15 L286.42,836.01 L286.95,835.92 L287.48,835.89 L288.06,835.93 L288.64,836.06 L289.23,836.24 L289.81,836.46 L290.39,836.68 L290.97,836.87 L291.56,836.99 L292.14,837.04 L292.70,837.00 L293.26,836.89 L293.82,836.73 L294.38,836.56 L294.94,836.41 L295.51,836.30 L296.07,836.26 L296.59,836.29 L297.11,836.38 L297.63,836.52 L298.15,836.68 L298.67,836.84 L299.19,836.97 L299.71,837.06 L300.23,837.10 L300.76,837.05 L301.29,836.94 L301.82,836.76 L302.35,836.55 L302.88,836.34 L303.41,836.17 L303.94,836.05 L304.47,836.01 L305.02,836.04 L305.57,836.14 L306.12,836.27 L306.67,836.42 L307.21,836.56 L307.76,836.65 L308.31,836.69 L308.84,836.66 L309.36,836.58 L309.88,836.46 L310.41,836.32 L310.93,836.18 L311.45,836.06 L311.98,835.97 L312.50,835.95 L313.03,835.98 L313.56,836.08 L314.09,836.22 L314.62,836.40 L315.14,836.60 L315.67,836.78 L316.20,836.93 L316.73,837.02 L317.26,837.06 L317.79,837.02 L318.31,836.91 L318.84,836.74 L319.37,836.55 L319.90,836.35 L320.42,836.19 L320.95,836.08 L321.48,836.04 L322.03,836.07 L322.59,836.17 L323.15,836.31 L323.70,836.48 L324.26,836.66 L324.82,836.80 L325.37,836.90 L325.93,836.93 L326.50,836.87 L327.07,836.72 L327.64,836.50 L328.21,836.25 L328.78,836.02 L329.35,835.87 L329.91,835.81 L330.43,835.87 L330.94,836.02 L331.45,836.25 L331.96,836.53 L332.47,836.80 L332.99,837.03 L333.50,837.18 L334.01,837.24 L334.57,837.21 L335.14,837.13 L335.71,837.01 L336.27,836.87 L336.84,836.71 L337.40,836.56 L337.97,836.44 L338.53,836.37 L339.10,836.34 L339.65,836.37 L340.21,836.46 L340.76,836.59 L341.32,836.74 L341.88,836.89 L342.43,837.02 L342.99,837.11 L343.54,837.14 L344.11,837.11 L344.68,837.02 L345.25,836.88 L345.82,836.70 L346.39,836.52 L346.96,836.35 L347.53,836.20 L348.10,836.11 L348.67,836.08 L349.20,836.11 L349.72,836.18 L350.24,836.30 L350.77,836.43 L351.29,836.56 L351.82,836.67 L352.34,836.75 L352.86,836.78 L353.43,836.76 L354.00,836.71 L354.56,836.64 L355.13,836.55 L355.70,836.45 L356.26,836.36 L356.83,836.29 L357.40,836.24 L357.96,836.22 L358.54,836.24 L359.12,836.30 L359.69,836.38 L360.27,836.48 L360.84,836.58 L361.42,836.66 L362.00,836.72 L362.57,836.74 L363.14,836.70 L363.71,836.59 L364.27,836.44 L364.84,836.26 L365.41,836.07 L365.97,835.92 L366.54,835.81 L367.11,835.78 L367.61,835.83 L368.11,835.98 L368.61,836.20 L369.11,836.46 L369.61,836.72 L370.11,836.94 L370.61,837.09 L371.11,837.14 L371.67,837.09 L372.24,836.95 L372.80,836.73 L373.37,836.48 L373.93,836.23 L374.49,836.01 L375.06,835.87 L375.62,835.82 L376.15,835.85 L376.68,835.93 L377.21,836.06 L377.74,836.22 L378.27,836.39 L378.80,836.55 L379.34,836.68 L379.87,836.76 L380.40,836.79 L380.96,836.77 L381.52,836.70 L382.08,836.61 L382.64,836.49 L383.19,836.36 L383.75,836.24 L384.31,836.14 L384.87,836.08 L385.43,836.06 L385.98,836.09 L386.54,836.17 L387.09,836.29 L387.64,836.42 L388.19,836.54 L388.74,836.62 L389.29,836.65 L389.85,836.63 L390.41,836.57 L390.98,836.48 L391.54,836.37 L392.10,836.26 L392.66,836.16 L393.22,836.10 L393.78,836.08 L394.31,836.10 L394.84,836.18 L395.37,836.28 L395.90,836.41 L396.43,836.53 L396.96,836.64 L397.48,836.71 L398.01,836.73 L398.55,836.71 L399.09,836.65 L399.62,836.56 L400.16,836.45 L400.69,836.34 L401.23,836.24 L401.77,836.18 L402.30,836.16 L402.85,836.18 L403.40,836.22 L403.96,836.28 L404.51,836.36 L405.06,836.45 L405.61,836.53 L406.16,836.59 L406.71,836.64 L407.26,836.65 L407.80,836.63 L408.34,836.56 L408.87,836.45 L409.41,836.32 L409.95,836.18 L410.49,836.05 L411.03,835.94 L411.56,835.87 L412.10,835.85 L412.67,835.91 L413.24,836.10 L413.81,836.37 L414.38,836.68 L414.95,836.95 L415.52,837.14 L416.09,837.21 L416.62,837.16 L417.15,837.04 L417.68,836.86 L418.22,836.63 L418.75,836.39 L419.28,836.16 L419.81,835.97 L420.34,835.85 L420.88,835.81 L421.40,835.85 L421.93,835.96 L422.46,836.14 L422.98,836.34 L423.51,836.54 L424.04,836.72 L424.56,836.83 L425.09,836.87 L425.64,836.83 L426.18,836.71 L426.72,836.53 L427.27,836.31 L427.81,836.10 L428.36,835.92 L428.90,835.79 L429.45,835.75 L430.02,835.79 L430.60,835.91 L431.18,836.10 L431.76,836.31 L432.33,836.52 L432.91,836.70 L433.49,836.82 L434.07,836.87 L434.62,836.84 L435.17,836.77 L435.72,836.66 L436.27,836.53 L436.82,836.40 L437.37,836.28 L437.92,836.21 L438.47,836.18 L439.03,836.21 L439.58,836.28 L440.14,836.39 L440.69,836.51 L441.25,836.61 L441.80,836.68 L442.36,836.71 L442.91,836.69 L443.46,836.65 L444.01,836.58 L444.56,836.49 L445.11,836.40 L445.66,836.31 L446.21,836.24 L446.76,836.19 L447.31,836.18 L447.88,836.20 L448.44,836.25 L449.01,836.33 L449.57,836.44 L450.14,836.54 L450.70,836.64 L451.27,836.73 L451.83,836.78 L452.40,836.80 L452.92,836.77 L453.45,836.69 L453.97,836.57 L454.49,836.42 L455.01,836.28 L455.54,836.15 L456.06,836.07 L456.58,836.04 L457.09,836.08 L457.60,836.17 L458.11,836.30 L458.62,836.46 L459.13,836.62 L459.64,836.75 L460.15,836.84 L460.67,836.87 L461.23,836.84 L461.80,836.75 L462.37,836.61 L462.94,836.44 L463.51,836.26 L464.08,836.08 L464.64,835.94 L465.21,835.85 L465.78,835.82 L466.33,835.86 L466.87,835.96 L467.42,836.12 L467.97,836.32 L468.51,836.53 L469.06,836.73 L469.61,836.89 L470.16,836.99 L470.70,837.03 L471.26,836.99 L471.83,836.88 L472.39,836.72 L472.95,836.51 L473.51,836.30 L474.07,836.10 L474.64,835.93 L475.20,835.82 L475.76,835.79 L476.33,835.83 L476.90,835.98 L477.47,836.19 L478.04,836.43 L478.61,836.68 L479.18,836.89 L479.76,837.03 L480.33,837.08 L480.77,837.04 L481.22,836.94 L481.66,836.79 L482.11,836.65 L482.55,836.54 L483.00,836.50 L483.00,837.00 L484.60,894.80 L486.35,896.80 L488.15,733.10 L491.57,733.10 L494.23,896.80 L497.00,892.80 L497.33,870.46 L497.67,849.65 L498.00,831.78 L498.33,818.06 L498.67,809.44 L499.00,806.50 L499.33,809.44 L499.67,818.06 L500.00,831.78 L500.33,849.65 L500.67,870.46 L501.00,892.80 L503.87,896.80 L505.43,733.10 L510.70,733.10 L511.90,896.80 L519.33,896.80 L522.47,733.10 L526.85,733.10 L528.65,896.80 L535.12,896.80 L537.18,733.10 L541.35,733.10 L543.15,896.80 L549.12,896.80 L551.18,733.10 L554.69,733.10 L558.31,896.80 L563.30,896.80 L566.80,733.10 L569.21,733.10 L572.59,896.80 L577.80,882.80 L578.35,857.67 L578.90,833.51 L579.45,811.24 L580.00,791.72 L580.55,775.71 L581.10,763.80 L581.65,756.47 L582.20,754.00 L582.78,757.12 L583.37,766.26 L583.95,780.81 L584.53,799.77 L585.12,821.85 L585.70,845.54 L586.28,869.23 L586.87,891.31 L587.45,910.27 L588.03,924.82 L588.62,933.96 L589.20,937.08 L589.77,934.73 L590.34,927.80 L590.91,916.71 L591.48,902.10 L592.05,884.81 L592.62,865.85 L593.18,846.33 L593.75,827.37 L594.32,810.08 L594.89,795.47 L595.46,784.38 L596.03,777.45 L596.60,775.10 L597.16,776.97 L597.72,782.44 L598.27,791.14 L598.83,802.48 L599.39,815.68 L599.95,829.85 L600.51,844.03 L601.07,857.23 L601.62,868.57 L602.18,877.27 L602.74,882.74 L603.30,884.61 L603.87,883.03 L604.43,878.39 L605.00,871.00 L605.57,861.38 L606.13,850.18 L606.70,838.15 L607.27,826.13 L607.83,814.93 L608.40,805.31 L608.97,797.92 L609.53,793.28 L610.10,791.70 L610.68,792.95 L611.27,796.63 L611.85,802.53 L612.44,810.29 L613.02,819.48 L613.61,829.56 L614.19,839.94 L614.78,850.02 L615.36,859.21 L615.95,866.97 L616.53,872.87 L617.12,876.55 L617.70,877.80 L618.27,876.50 L618.83,872.69 L619.40,866.63 L619.97,858.73 L620.53,849.52 L621.10,839.65 L621.67,829.78 L622.23,820.58 L622.80,812.67 L623.37,806.61 L623.93,802.80 L624.50,801.50 L625.10,802.50 L625.70,805.46 L626.30,810.19 L626.90,816.42 L627.50,823.80 L628.10,831.89 L628.70,840.21 L629.30,848.30 L629.90,855.68 L630.50,861.91 L631.10,866.64 L631.70,869.60 L632.30,870.60 L632.89,869.56 L633.48,866.50 L634.07,861.64 L634.67,855.30 L635.26,847.92 L635.85,840.00 L636.44,832.08 L637.03,824.70 L637.62,818.36 L638.22,813.50 L638.81,810.44 L639.40,809.40 L639.98,810.17 L640.55,812.42 L641.13,816.04 L641.71,820.80 L642.28,826.44 L642.86,832.62 L643.44,838.98 L644.02,845.16 L644.59,850.80 L645.17,855.56 L645.75,859.18 L646.32,861.43 L646.90,862.20 L647.48,861.43 L648.07,859.17 L648.65,855.57 L649.23,850.88 L649.82,845.41 L650.40,839.55 L650.98,833.69 L651.57,828.23 L652.15,823.53 L652.73,819.93 L653.32,817.67 L653.90,816.90 L654.48,817.57 L655.07,819.55 L655.65,822.70 L656.23,826.80 L656.82,831.58 L657.40,836.70 L657.98,841.82 L658.57,846.60 L659.15,850.70 L659.73,853.85 L660.32,855.83 L660.90,856.50 L661.48,856.00 L662.05,854.52 L662.63,852.16 L663.21,849.05 L663.78,845.37 L664.36,841.33 L664.94,837.17 L665.52,833.13 L666.09,829.45 L666.67,826.34 L667.25,823.98 L667.82,822.50 L668.40,822.00 L668.99,822.52 L669.58,824.03 L670.17,826.44 L670.77,829.57 L671.36,833.23 L671.95,837.15 L672.54,841.07 L673.13,844.72 L673.73,847.86 L674.32,850.27 L674.91,851.78 L675.50,852.30 L676.08,851.91 L676.65,850.75 L677.23,848.90 L677.81,846.47 L678.38,843.59 L678.96,840.43 L679.54,837.17 L680.12,834.01 L680.69,831.13 L681.27,828.70 L681.85,826.85 L682.42,825.69 L683.00,825.30 L683.58,825.70 L684.17,826.89 L684.75,828.77 L685.33,831.22 L685.92,834.08 L686.50,837.15 L687.08,840.22 L687.67,843.07 L688.25,845.53 L688.83,847.41 L689.42,848.60 L690.00,849.00 L690.58,848.70 L691.15,847.83 L691.73,846.43 L692.31,844.59 L692.88,842.42 L693.46,840.03 L694.04,837.57 L694.62,835.18 L695.19,833.01 L695.77,831.17 L696.35,829.77 L696.92,828.90 L697.50,828.60 L698.08,828.86 L698.65,829.61 L699.23,830.81 L699.81,832.40 L700.38,834.28 L700.96,836.34 L701.54,838.46 L702.12,840.52 L702.69,842.40 L703.27,843.99 L703.85,845.19 L704.42,845.94 L705.00,846.20 L705.58,845.95 L706.17,845.21 L706.75,844.03 L707.33,842.50 L707.92,840.72 L708.50,838.80 L709.08,836.88 L709.67,835.10 L710.25,833.57 L710.83,832.39 L711.42,831.65 L712.00,831.40 L712.58,831.59 L713.15,832.14 L713.73,833.02 L714.31,834.19 L714.88,835.56 L715.46,837.07 L716.04,838.63 L716.62,840.14 L717.19,841.51 L717.77,842.68 L718.35,843.56 L718.92,844.11 L719.50,844.30 L720.08,844.14 L720.65,843.67 L721.23,842.92 L721.81,841.92 L722.38,840.75 L722.96,839.46 L723.54,838.14 L724.12,836.85 L724.69,835.68 L725.27,834.68 L725.85,833.93 L726.42,833.46 L727.00,833.30 L727.58,833.46 L728.17,833.92 L728.75,834.65 L729.33,835.60 L729.92,836.71 L730.50,837.90 L731.08,839.09 L731.67,840.20 L732.25,841.15 L732.83,841.88 L733.42,842.34 L734.00,842.50 L734.58,842.37 L735.17,841.97 L735.75,841.34 L736.33,840.52 L736.92,839.57 L737.50,838.55 L738.08,837.53 L738.67,836.58 L739.25,835.76 L739.83,835.13 L740.42,834.73 L741.00,834.60 L741.59,834.68 L742.17,834.91 L742.76,835.29 L743.35,835.79 L743.93,836.40 L744.52,837.09 L745.11,837.82 L745.69,838.58 L746.28,839.31 L746.87,840.00 L747.45,840.61 L748.04,841.11 L748.63,841.49 L749.21,841.72 L749.80,841.80 L750.39,841.72 L750.98,841.49 L751.58,841.11 L752.17,840.61 L752.76,840.03 L753.35,839.38 L753.95,838.72 L754.54,838.07 L755.13,837.49 L755.72,836.99 L756.32,836.61 L756.91,836.38 L757.50,836.30 L758.09,836.37 L758.68,836.59 L759.27,836.94 L759.87,837.40 L760.46,837.93 L761.05,838.50 L761.64,839.07 L762.23,839.60 L762.83,840.06 L763.42,840.41 L764.01,840.63 L764.60,840.70 L765.19,840.64 L765.78,840.45 L766.38,840.14 L766.97,839.75 L767.56,839.29 L768.15,838.80 L768.74,838.31 L769.33,837.85 L769.93,837.46 L770.52,837.15 L771.11,836.96 L771.70,836.90 L772.29,836.94 L772.87,837.05 L773.46,837.24 L774.04,837.48 L774.63,837.78 L775.21,838.11 L775.80,838.45 L776.39,838.79 L776.97,839.12 L777.56,839.42 L778.14,839.66 L778.73,839.85 L779.31,839.96 L779.90,840.00 L780.50,839.95 L781.10,839.80 L781.70,839.57 L782.30,839.27 L782.90,838.93 L783.50,838.57 L784.10,838.23 L784.70,837.93 L785.30,837.70 L785.90,837.55 L786.50,837.50 L787.09,837.54 L787.68,837.67 L788.27,837.87 L788.87,838.12 L789.46,838.43 L790.05,838.75 L790.64,839.07 L791.23,839.38 L791.83,839.63 L792.42,839.83 L793.01,839.96 L793.60,840.00 L794.15,839.95 L794.69,839.81 L795.24,839.59 L795.78,839.30 L796.33,838.97 L796.87,838.63 L797.42,838.30 L797.96,838.01 L798.51,837.79 L799.05,837.65 L799.60,837.60 L800.19,837.62 L800.77,837.69 L801.36,837.79 L801.95,837.93 L802.53,838.10 L803.12,838.29 L803.71,838.50 L804.29,838.70 L804.88,838.91 L805.47,839.10 L806.05,839.27 L806.64,839.41 L807.23,839.51 L807.81,839.58 L808.40,839.60 L808.99,839.57 L809.58,839.47 L810.17,839.31 L810.77,839.10 L811.36,838.86 L811.95,838.60 L812.54,838.34 L813.13,838.10 L813.73,837.89 L814.32,837.73 L814.91,837.63 L815.50,837.60 L816.08,837.62 L816.66,837.67 L817.24,837.76 L817.82,837.88 L818.40,838.02 L818.98,838.19 L819.56,838.36 L820.14,838.54 L820.72,838.71 L821.30,838.88 L821.88,839.02 L822.46,839.14 L823.04,839.23 L823.62,839.28 L824.20,839.30 L824.80,839.28 L825.40,839.23 L826.00,839.14 L826.60,839.02 L827.20,838.88 L827.80,838.73 L828.40,838.57 L829.00,838.42 L829.60,838.28 L830.20,838.16 L830.80,838.07 L831.40,838.02 L832.00,838.00 L832.56,838.04 L833.12,838.15 L833.69,838.32 L834.25,838.52 L834.81,838.72 L835.38,838.89 L835.94,839.00 L836.50,839.04 L837.05,839.00 L837.61,838.88 L838.16,838.70 L838.72,838.49 L839.27,838.29 L839.83,838.11 L840.38,837.99 L840.93,837.95 L841.46,837.97 L841.98,838.04 L842.50,838.15 L843.02,838.29 L843.54,838.43 L844.06,838.57 L844.59,838.68 L845.11,838.75 L845.63,838.77 L846.18,838.73 L846.74,838.60 L847.30,838.41 L847.85,838.20 L848.41,838.02 L848.96,837.89 L849.52,837.84 L850.09,837.90 L850.66,838.04 L851.23,838.25 L851.80,838.48 L852.37,838.69 L852.95,838.83 L853.52,838.88 L854.05,838.86 L854.59,838.79 L855.13,838.68 L855.66,838.55 L856.20,838.43 L856.73,838.32 L857.27,838.25 L857.81,838.22 L858.34,838.25 L858.88,838.33 L859.41,838.46 L859.95,838.62 L860.48,838.79 L861.02,838.94 L861.56,839.07 L862.09,839.16 L862.63,839.19 L863.15,839.14 L863.67,839.01 L864.19,838.82 L864.72,838.60 L865.24,838.37 L865.76,838.18 L866.28,838.05 L866.80,838.01 L866.94,838.04 L867.07,838.13 L867.20,838.25 L867.33,838.38 L867.47,838.47 L867.60,838.50 L867.83,838.50 L868.07,838.50 L868.30,838.50 L868.53,838.50 L868.77,838.50 L869.00,838.50 L869.38,835.35 L869.77,826.75 L870.15,815.00 L870.53,803.25 L870.92,794.65 L871.30,791.50 L871.88,792.31 L872.47,794.69 L873.05,798.47 L873.63,803.40 L874.22,809.14 L874.80,815.30 L875.38,821.46 L875.97,827.20 L876.55,832.13 L877.13,835.91 L877.72,838.29 L878.30,839.10 L878.89,838.69 L879.47,837.47 L880.06,835.49 L880.65,832.85 L881.23,829.65 L881.82,826.04 L882.41,822.18 L882.99,818.22 L883.58,814.36 L884.17,810.75 L884.75,807.55 L885.34,804.91 L885.93,802.93 L886.51,801.71 L887.10,801.30 L887.70,801.73 L888.30,803.02 L888.90,805.10 L889.50,807.93 L890.10,811.39 L890.70,815.38 L891.30,819.75 L891.90,824.36 L892.50,829.04 L893.10,833.65 L893.70,838.02 L894.30,842.01 L894.90,845.47 L895.50,848.30 L896.10,850.38 L896.70,851.67 L897.30,852.10 L897.90,851.58 L898.50,850.06 L899.10,847.62 L899.70,844.36 L900.30,840.47 L900.90,836.12 L901.50,831.55 L902.10,826.98 L902.70,822.63 L903.30,818.74 L903.90,815.48 L904.50,813.04 L905.10,811.52 L905.70,811.00 L906.32,811.38 L906.94,812.50 L907.56,814.30 L908.18,816.72 L908.80,819.65 L909.42,822.95 L910.04,826.49 L910.66,830.11 L911.28,833.65 L911.90,836.95 L912.52,839.88 L913.14,842.30 L913.76,844.10 L914.38,845.22 L915.00,845.60 L915.61,845.26 L916.22,844.26 L916.82,842.66 L917.43,840.55 L918.04,838.05 L918.65,835.31 L919.25,832.49 L919.86,829.75 L920.47,827.25 L921.08,825.14 L921.68,823.54 L922.29,822.54 L922.90,822.20 L923.45,822.46 L923.99,823.20 L924.54,824.37 L925.08,825.88 L925.63,827.60 L926.17,829.40 L926.72,831.12 L927.26,832.63 L927.81,833.80 L928.35,834.54 L928.90,834.80 L929.52,834.81 L930.13,834.82 L930.75,834.85 L931.37,834.88 L931.98,834.93 L932.60,834.97 L933.22,835.03 L933.83,835.09 L934.45,835.15 L935.07,835.21 L935.68,835.27 L936.30,835.32 L936.92,835.37 L937.53,835.42 L938.15,835.45 L938.77,835.48 L939.38,835.49 L940.00,835.50 L940.60,835.39 L941.20,835.08 L941.80,834.58 L942.40,833.93 L943.00,833.17 L943.60,832.35 L944.20,831.53 L944.80,830.78 L945.40,830.12 L946.00,829.62 L946.60,829.31 L947.20,829.20 L947.79,829.33 L948.37,829.71 L948.96,830.33 L949.54,831.16 L950.13,832.14 L950.71,833.24 L951.30,834.40 L951.89,835.56 L952.47,836.66 L953.06,837.64 L953.64,838.47 L954.23,839.09 L954.81,839.47 L955.40,839.60 L955.99,839.52 L956.57,839.28 L957.16,838.89 L957.74,838.38 L958.33,837.76 L958.91,837.07 L959.50,836.35 L960.09,835.63 L960.67,834.94 L961.26,834.32 L961.84,833.81 L962.43,833.42 L963.01,833.18 L963.60,833.10 L964.19,833.15 L964.78,833.30 L965.38,833.54 L965.97,833.86 L966.56,834.23 L967.15,834.64 L967.75,835.06 L968.34,835.47 L968.93,835.84 L969.52,836.16 L970.12,836.40 L970.71,836.55 L971.30,836.60 L971.82,836.59 L972.34,836.55 L972.87,836.50 L973.39,836.43 L973.91,836.37 L974.43,836.30 L974.96,836.25 L975.48,836.21 L976.00,836.20 L976.56,836.22 L977.13,836.29 L977.69,836.39 L978.25,836.52 L978.82,836.67 L979.38,836.83 L979.95,836.98 L980.51,837.11 L981.07,837.21 L981.64,837.28 L982.20,837.30 L982.80,837.28 L983.40,837.22 L984.00,837.13 L984.60,837.01 L985.20,836.87 L985.80,836.73 L986.40,836.59 L987.00,836.47 L987.60,836.38 L988.20,836.32 L988.80,836.30 L989.38,836.33 L989.97,836.43 L990.55,836.58 L991.14,836.78 L991.72,837.01 L992.31,837.27 L992.89,837.53 L993.48,837.79 L994.06,838.02 L994.65,838.22 L995.23,838.37 L995.82,838.47 L996.40,838.50 L997.01,838.48 L997.63,838.44 L998.24,838.37 L998.86,838.27 L999.47,838.16 L1000.09,838.03 L1000.70,837.90 L1001.31,837.77 L1001.93,837.64 L1002.54,837.53 L1003.16,837.43 L1003.77,837.36 L1004.39,837.32 L1005.00,837.30 L1005.59,837.30 L1006.18,837.28 L1006.76,837.26 L1007.35,837.23 L1007.94,837.20 L1008.53,837.16 L1009.12,837.12 L1009.71,837.07 L1010.29,837.03 L1010.88,836.98 L1011.47,836.94 L1012.06,836.90 L1012.65,836.87 L1013.24,836.84 L1013.82,836.82 L1014.41,836.80 L1015.00,836.80 L1015.59,836.82 L1016.17,836.90 L1016.76,837.01 L1017.35,837.16 L1017.93,837.35 L1018.52,837.56 L1019.11,837.79 L1019.69,838.01 L1020.28,838.24 L1020.87,838.45 L1021.45,838.64 L1022.04,838.79 L1022.63,838.90 L1023.21,838.98 L1023.80,839.00 L1024.38,838.97 L1024.97,838.87 L1025.55,838.72 L1026.14,838.52 L1026.72,838.29 L1027.31,838.03 L1027.89,837.77 L1028.48,837.51 L1029.06,837.28 L1029.65,837.08 L1030.23,836.93 L1030.82,836.83 L1031.40,836.80 L1032.00,836.84 L1032.60,836.96 L1033.20,837.15 L1033.80,837.38 L1034.40,837.66 L1035.00,837.94 L1035.60,838.22 L1036.20,838.45 L1036.80,838.64 L1037.40,838.76 L1038.00,838.80 L1038.57,838.78 L1039.14,838.73 L1039.71,838.65 L1040.29,838.54 L1040.86,838.40 L1041.43,838.26 L1042.00,838.10 L1042.57,837.94 L1043.14,837.80 L1043.71,837.66 L1044.29,837.55 L1044.86,837.47 L1045.43,837.42 L1046.00,837.40 L1046.57,837.41 L1047.14,837.45 L1047.71,837.52 L1048.29,837.61 L1048.86,837.71 L1049.43,837.83 L1050.00,837.95 L1050.57,838.07 L1051.14,838.19 L1051.71,838.29 L1052.29,838.38 L1052.86,838.45 L1053.43,838.49 L1054.00,838.50 L1054.56,838.50 L1055.12,838.49 L1055.69,838.48 L1056.25,838.47 L1056.81,838.45 L1057.38,838.44 L1057.94,838.44 L1058.50,838.43 L1059.04,838.41 L1059.59,838.34 L1060.13,838.24 L1060.68,838.12 L1061.22,838.00 L1061.77,837.89 L1062.31,837.82 L1062.86,837.80 L1063.36,837.82 L1063.87,837.86 L1064.37,837.93 L1064.88,838.01 L1065.38,838.09 L1065.89,838.16 L1066.40,838.21 L1066.90,838.22 L1067.46,838.21 L1068.02,838.15 L1068.58,838.07 L1069.14,837.97 L1069.71,837.86 L1070.27,837.76 L1070.83,837.67 L1071.39,837.62 L1071.95,837.60 L1072.46,837.64 L1072.98,837.75 L1073.49,837.92 L1074.01,838.12 L1074.52,838.32 L1075.04,838.49 L1075.56,838.60 L1076.07,838.64 L1076.65,838.61 L1077.22,838.53 L1077.79,838.39 L1078.37,838.22 L1078.94,838.05 L1079.52,837.88 L1080.09,837.75 L1080.67,837.66 L1081.24,837.63 L1081.74,837.65 L1082.24,837.72 L1082.75,837.81 L1083.25,837.92 L1083.75,838.03 L1084.25,838.13 L1084.75,838.19 L1085.25,838.22 L1085.82,838.19 L1086.38,838.12 L1086.95,838.01 L1087.51,837.90 L1088.07,837.79 L1088.64,837.72 L1089.20,837.69 L1089.77,837.72 L1090.33,837.80 L1090.89,837.91 L1091.46,838.03 L1092.02,838.14 L1092.59,838.22 L1093.15,838.24 L1093.67,838.22 L1094.19,838.14 L1094.72,838.03 L1095.24,837.90 L1095.76,837.77 L1096.28,837.66 L1096.80,837.58 L1097.32,837.56 L1097.88,837.59 L1098.44,837.67 L1099.00,837.81 L1099.56,837.97 L1100.11,838.14 L1100.67,838.30 L1101.23,838.43 L1101.79,838.52 L1102.35,838.55 L1102.89,838.52 L1103.44,838.42 L1103.99,838.27 L1104.54,838.10 L1105.09,837.93 L1105.63,837.78 L1106.18,837.69 L1106.73,837.65 L1107.30,837.68 L1107.86,837.75 L1108.43,837.86 L1108.99,837.99 L1109.56,838.12 L1110.13,838.23 L1110.69,838.30 L1111.26,838.33 L1111.80,838.31 L1112.33,838.26 L1112.87,838.18 L1113.40,838.09 L1113.94,838.01 L1114.47,837.93 L1115.01,837.88 L1115.54,837.86 L1116.07,837.89 L1116.59,837.98 L1117.12,838.12 L1117.64,838.27 L1118.17,838.43 L1118.69,838.56 L1119.22,838.65 L1119.74,838.68 L1120.31,838.63 L1120.88,838.48 L1121.45,838.26 L1122.03,838.02 L1122.60,837.80 L1123.17,837.65 L1123.74,837.60 L1124.26,837.63 L1124.78,837.72 L1125.30,837.85 L1125.82,838.02 L1126.33,838.20 L1126.85,838.36 L1127.37,838.50 L1127.89,838.59 L1128.41,838.62 L1128.93,838.58 L1129.44,838.49 L1129.96,838.35 L1130.47,838.18 L1130.99,838.01 L1131.50,837.87 L1132.01,837.77 L1132.53,837.74 L1133.05,837.76 L1133.57,837.83 L1134.09,837.92 L1134.61,838.04 L1135.13,838.15 L1135.65,838.25 L1136.17,838.32 L1136.69,838.34 L1137.24,838.30 L1137.80,838.19 L1138.35,838.03 L1138.90,837.83 L1139.46,837.64 L1140.01,837.48 L1140.56,837.37 L1141.12,837.33 L1141.67,837.37 L1142.22,837.48 L1142.77,837.65 L1143.33,837.86 L1143.88,838.09 L1144.43,838.30 L1144.98,838.47 L1145.53,838.58 L1146.09,838.62 L1146.64,838.59 L1147.19,838.48 L1147.74,838.33 L1148.29,838.17 L1148.84,838.02 L1149.39,837.92 L1149.94,837.88 L1150.47,837.90 L1151.00,837.97 L1151.54,838.07 L1152.07,838.19 L1152.60,838.32 L1153.13,838.45 L1153.66,838.55 L1154.19,838.61 L1154.72,838.64 L1155.28,838.60 L1155.84,838.48 L1156.40,838.30 L1156.96,838.09 L1157.51,837.88 L1158.07,837.71 L1158.63,837.59 L1159.19,837.55 L1159.73,837.59 L1160.28,837.70 L1160.83,837.85 L1161.37,838.03 L1161.92,838.19 L1162.47,838.30 L1163.01,838.33 L1163.58,838.31 L1164.14,838.23 L1164.71,838.10 L1165.27,837.95 L1165.83,837.79 L1166.40,837.64 L1166.96,837.51 L1167.53,837.43 L1168.09,837.40 L1168.64,837.44 L1169.20,837.55 L1169.75,837.72 L1170.30,837.93 L1170.86,838.16 L1171.41,838.36 L1171.96,838.53 L1172.52,838.64 L1173.07,838.68 L1173.59,838.65 L1174.11,838.56 L1174.63,838.42 L1175.15,838.26 L1175.67,838.10 L1176.19,837.96 L1176.71,837.87 L1177.23,837.83 L1177.73,837.86 L1178.24,837.92 L1178.74,838.01 L1179.25,838.12 L1179.75,838.23 L1180.26,838.33 L1180.76,838.39 L1181.26,838.41 L1181.79,838.38 L1182.32,838.29 L1182.85,838.14 L1183.37,837.97 L1183.90,837.78 L1184.43,837.60 L1184.95,837.46 L1185.48,837.37 L1186.01,837.34 L1186.54,837.37 L1187.08,837.47 L1187.61,837.62 L1188.14,837.81 L1188.68,838.01 L1189.21,838.20 L1189.74,838.35 L1190.28,838.45 L1190.81,838.49 L1191.35,838.46 L1191.89,838.39 L1192.43,838.27 L1192.97,838.13 L1193.51,837.98 L1194.05,837.84 L1194.59,837.73 L1195.13,837.65 L1195.67,837.63 L1196.24,837.64 L1196.81,837.70 L1197.38,837.78 L1197.95,837.87 L1198.52,837.97 L1199.09,838.05 L1199.66,838.10 L1200.24,838.12 L1200.78,838.11 L1201.32,838.08 L1201.86,838.03 L1202.40,837.97 L1202.95,837.91 L1203.49,837.85 L1204.03,837.80 L1204.57,837.77 L1205.12,837.76 L1205.68,837.78 L1206.24,837.85 L1206.81,837.94 L1207.37,838.06 L1207.93,838.19 L1208.49,838.31 L1209.06,838.40 L1209.62,838.47 L1210.18,838.49 L1210.71,838.46 L1211.24,838.39 L1211.77,838.28 L1212.30,838.16 L1212.83,838.03 L1213.36,837.92 L1213.89,837.85 L1214.42,837.82 L1214.94,837.85 L1215.46,837.92 L1215.98,838.03 L1216.50,838.15 L1217.02,838.28 L1217.54,838.39 L1218.06,838.46 L1218.58,838.48 L1219.11,838.46 L1219.64,838.41 L1220.17,838.32 L1220.70,838.21 L1221.23,838.10 L1221.76,837.99 L1222.29,837.91 L1222.82,837.85 L1223.35,837.83 L1223.91,837.86 L1224.47,837.94 L1225.03,838.06 L1225.59,838.19 L1226.15,838.31 L1226.71,838.39 L1227.27,838.41 L1227.85,838.39 L1228.42,838.31 L1229.00,838.18 L1229.58,838.04 L1230.15,837.90 L1230.73,837.78 L1231.31,837.70 L1231.88,837.67 L1232.40,837.70 L1232.92,837.78 L1233.43,837.91 L1233.95,838.06 L1234.46,838.22 L1234.98,838.34 L1235.49,838.43 L1236.01,838.46 L1236.56,838.42 L1237.11,838.32 L1237.66,838.17 L1238.20,838.01 L1238.75,837.86 L1239.30,837.76 L1239.85,837.72 L1240.41,837.76 L1240.96,837.86 L1241.52,838.01 L1242.07,838.20 L1242.63,838.38 L1243.18,838.54 L1243.74,838.64 L1244.30,838.68 L1244.82,838.64 L1245.34,838.52 L1245.86,838.35 L1246.38,838.14 L1246.90,837.91 L1247.43,837.70 L1247.95,837.52 L1248.47,837.41 L1248.99,837.37 L1249.55,837.40 L1250.11,837.50 L1250.67,837.64 L1251.22,837.81 L1251.78,837.97 L1252.34,838.11 L1252.90,838.21 L1253.46,838.24 L1253.47,838.22 L1253.47,838.18 L1253.48,838.12 L1253.49,838.06 L1253.49,838.02 L1253.50,838.00" fill="none" stroke="#0000d8" stroke-width="4.7" stroke-linejoin="round" clip-path="url(#c3)"/>
<line x1="292.60" y1="150.20" x2="292.60" y2="138.70" stroke="#262626" stroke-width="1.6"/>
<line x1="292.60" y1="14.50" x2="292.60" y2="26.00" stroke="#262626" stroke-width="1.6"/>
<line x1="485.00" y1="150.20" x2="485.00" y2="138.70" stroke="#262626" stroke-width="1.6"/>
<line x1="485.00" y1="14.50" x2="485.00" y2="26.00" stroke="#262626" stroke-width="1.6"/>
<line x1="677.00" y1="150.20" x2="677.00" y2="138.70" stroke="#262626" stroke-width="1.6"/>
<line x1="677.00" y1="14.50" x2="677.00" y2="26.00" stroke="#262626" stroke-width="1.6"/>
<line x1="870.30" y1="150.20" x2="870.30" y2="138.70" stroke="#262626" stroke-width="1.6"/>
<line x1="870.30" y1="14.50" x2="870.30" y2="26.00" stroke="#262626" stroke-width="1.6"/>
<line x1="1061.70" y1="150.20" x2="1061.70" y2="138.70" stroke="#262626" stroke-width="1.6"/>
<line x1="1061.70" y1="14.50" x2="1061.70" y2="26.00" stroke="#262626" stroke-width="1.6"/>
<line x1="100.80" y1="105.67" x2="112.30" y2="105.67" stroke="#262626" stroke-width="1.6"/>
<line x1="1252.80" y1="105.67" x2="1241.30" y2="105.67" stroke="#262626" stroke-width="1.6"/>
<line x1="100.80" y1="59.03" x2="112.30" y2="59.03" stroke="#262626" stroke-width="1.6"/>
<line x1="1252.80" y1="59.03" x2="1241.30" y2="59.03" stroke="#262626" stroke-width="1.6"/>
<line x1="292.60" y1="394.40" x2="292.60" y2="382.90" stroke="#262626" stroke-width="1.6"/>
<line x1="292.60" y1="258.70" x2="292.60" y2="270.20" stroke="#262626" stroke-width="1.6"/>
<line x1="485.00" y1="394.40" x2="485.00" y2="382.90" stroke="#262626" stroke-width="1.6"/>
<line x1="485.00" y1="258.70" x2="485.00" y2="270.20" stroke="#262626" stroke-width="1.6"/>
<line x1="677.00" y1="394.40" x2="677.00" y2="382.90" stroke="#262626" stroke-width="1.6"/>
<line x1="677.00" y1="258.70" x2="677.00" y2="270.20" stroke="#262626" stroke-width="1.6"/>
<line x1="870.30" y1="394.40" x2="870.30" y2="382.90" stroke="#262626" stroke-width="1.6"/>
<line x1="870.30" y1="258.70" x2="870.30" y2="270.20" stroke="#262626" stroke-width="1.6"/>
<line x1="1061.70" y1="394.40" x2="1061.70" y2="382.90" stroke="#262626" stroke-width="1.6"/>
<line x1="1061.70" y1="258.70" x2="1061.70" y2="270.20" stroke="#262626" stroke-width="1.6"/>
<line x1="100.80" y1="349.87" x2="112.30" y2="349.87" stroke="#262626" stroke-width="1.6"/>
<line x1="1252.80" y1="349.87" x2="1241.30" y2="349.87" stroke="#262626" stroke-width="1.6"/>
<line x1="100.80" y1="303.23" x2="112.30" y2="303.23" stroke="#262626" stroke-width="1.6"/>
<line x1="1252.80" y1="303.23" x2="1241.30" y2="303.23" stroke="#262626" stroke-width="1.6"/>
<line x1="292.60" y1="638.60" x2="292.60" y2="627.10" stroke="#262626" stroke-width="1.6"/>
<line x1="292.60" y1="502.90" x2="292.60" y2="514.40" stroke="#262626" stroke-width="1.6"/>
<line x1="485.00" y1="638.60" x2="485.00" y2="627.10" stroke="#262626" stroke-width="1.6"/>
<line x1="485.00" y1="502.90" x2="485.00" y2="514.40" stroke="#262626" stroke-width="1.6"/>
<line x1="677.00" y1="638.60" x2="677.00" y2="627.10" stroke="#262626" stroke-width="1.6"/>
<line x1="677.00" y1="502.90" x2="677.00" y2="514.40" stroke="#262626" stroke-width="1.6"/>
<line x1="870.30" y1="638.60" x2="870.30" y2="627.10" stroke="#262626" stroke-width="1.6"/>
<line x1="870.30" y1="502.90" x2="870.30" y2="514.40" stroke="#262626" stroke-width="1.6"/>
<line x1="1061.70" y1="638.60" x2="1061.70" y2="627.10" stroke="#262626" stroke-width="1.6"/>
<line x1="1061.70" y1="502.90" x2="1061.70" y2="514.40" stroke="#262626" stroke-width="1.6"/>
<line x1="100.80" y1="594.07" x2="112.30" y2="594.07" stroke="#262626" stroke-width="1.6"/>
<line x1="1252.80" y1="594.07" x2="1241.30" y2="594.07" stroke="#262626" stroke-width="1.6"/>
<line x1="100.80" y1="547.43" x2="112.30" y2="547.43" stroke="#262626" stroke-width="1.6"/>
<line x1="1252.80" y1="547.43" x2="1241.30" y2="547.43" stroke="#262626" stroke-width="1.6"/>
<line x1="292.60" y1="882.80" x2="292.60" y2="871.30" stroke="#262626" stroke-width="1.6"/>
<line x1="292.60" y1="747.10" x2="292.60" y2="758.60" stroke="#262626" stroke-width="1.6"/>
<line x1="485.00" y1="882.80" x2="485.00" y2="871.30" stroke="#262626" stroke-width="1.6"/>
<line x1="485.00" y1="747.10" x2="485.00" y2="758.60" stroke="#262626" stroke-width="1.6"/>
<line x1="677.00" y1="882.80" x2="677.00" y2="871.30" stroke="#262626" stroke-width="1.6"/>
<line x1="677.00" y1="747.10" x2="677.00" y2="758.60" stroke="#262626" stroke-width="1.6"/>
<line x1="870.30" y1="882.80" x2="870.30" y2="871.30" stroke="#262626" stroke-width="1.6"/>
<line x1="870.30" y1="747.10" x2="870.30" y2="758.60" stroke="#262626" stroke-width="1.6"/>
<line x1="1061.70" y1="882.80" x2="1061.70" y2="871.30" stroke="#262626" stroke-width="1.6"/>
<line x1="1061.70" y1="747.10" x2="1061.70" y2="758.60" stroke="#262626" stroke-width="1.6"/>
<line x1="100.80" y1="838.27" x2="112.30" y2="838.27" stroke="#262626" stroke-width="1.6"/>
<line x1="1252.80" y1="838.27" x2="1241.30" y2="838.27" stroke="#262626" stroke-width="1.6"/>
<line x1="100.80" y1="791.63" x2="112.30" y2="791.63" stroke="#262626" stroke-width="1.6"/>
<line x1="1252.80" y1="791.63" x2="1241.30" y2="791.63" stroke="#262626" stroke-width="1.6"/>
<path d="M99.70,14.50 H1252.80 V151.30" fill="none" stroke="#262626" stroke-width="2.5"/>
<path d="M99.70,258.70 H1252.80 V395.50" fill="none" stroke="#262626" stroke-width="2.5"/>
<path d="M99.70,502.90 H1252.80 V639.70" fill="none" stroke="#262626" stroke-width="2.5"/>
<path d="M99.70,747.10 H1252.80 V883.90" fill="none" stroke="#262626" stroke-width="2.5"/>
<polygon points="64.00,25.40 64.00,6.10 61.15,6.10 55.90,11.89 56.15,14.39 61.55,10.50 61.55,25.40" fill="#262626"/>
<text x="68.29" y="25.40" font-size="27.5">.</text>
<text x="77.80" y="25.40" font-size="27.5">5</text>
<polygon points="87.50,72.40 87.50,52.80 84.65,52.80 79.60,58.68 79.85,61.18 85.05,57.20 85.05,72.40" fill="#262626"/>
<text x="53.83" y="116.90" font-size="27.5">0</text>
<text x="68.39" y="116.90" font-size="27.5">.</text>
<text x="78.00" y="116.90" font-size="27.5">5</text>
<text x="76.88" y="163.10" font-size="27.5">0</text>
<text x="92.23" y="186.90" font-size="27.5">0</text>
<text x="278.45" y="186.90" font-size="27.5">20</text>
<text x="469.73" y="186.90" font-size="27.5">40</text>
<text x="660.94" y="186.90" font-size="27.5">60</text>
<text x="854.65" y="186.90" font-size="27.5">80</text>
<polygon points="1049.60,186.90 1049.60,167.60 1046.75,167.60 1041.60,173.39 1041.85,175.89 1047.15,172.00 1047.15,186.90" fill="#262626"/>
<text x="1054.43" y="186.90" font-size="27.5">00</text>
<polygon points="1240.90,186.90 1240.90,167.60 1238.05,167.60 1232.80,173.39 1233.05,175.89 1238.45,172.00 1238.45,186.90" fill="#262626"/>
<text x="1245.32" y="186.90" font-size="27.5">2</text>
<text x="1260.63" y="186.90" font-size="27.5">0</text>
<text x="620.98" y="225.80" font-size="31.5">Time (s)</text>
<text transform="translate(30.0,87.21) rotate(-90)" font-size="31.5">(m)</text>
<text transform="translate(45.3,111.38) rotate(-90)" font-size="24">a</text>
<line x1="17.2" y1="109.30" x2="17.2" y2="124.80" stroke="#cfcfcf" stroke-width="2"/>
<path d="M18.0,122.50 Q20,118.50 22,118.00 L28.5,118.30 Q30.3,118.80 30.3,121.00" fill="none" stroke="#777" stroke-width="1.8"/>
<polygon points="64.00,270.00 64.00,250.70 61.15,250.70 55.90,256.49 56.15,258.99 61.55,255.10 61.55,270.00" fill="#262626"/>
<text x="68.29" y="270.00" font-size="27.5">.</text>
<text x="77.80" y="270.00" font-size="27.5">5</text>
<polygon points="87.50,317.00 87.50,297.40 84.65,297.40 79.60,303.28 79.85,305.78 85.05,301.80 85.05,317.00" fill="#262626"/>
<text x="53.83" y="361.50" font-size="27.5">0</text>
<text x="68.39" y="361.50" font-size="27.5">.</text>
<text x="78.00" y="361.50" font-size="27.5">5</text>
<text x="76.88" y="407.70" font-size="27.5">0</text>
<text x="92.23" y="431.50" font-size="27.5">0</text>
<text x="278.45" y="431.50" font-size="27.5">20</text>
<text x="469.73" y="431.50" font-size="27.5">40</text>
<text x="660.94" y="431.50" font-size="27.5">60</text>
<text x="854.65" y="431.50" font-size="27.5">80</text>
<polygon points="1049.60,431.50 1049.60,412.20 1046.75,412.20 1041.60,417.99 1041.85,420.49 1047.15,416.60 1047.15,431.50" fill="#262626"/>
<text x="1054.43" y="431.50" font-size="27.5">00</text>
<polygon points="1240.90,431.50 1240.90,412.20 1238.05,412.20 1232.80,417.99 1233.05,420.49 1238.45,416.60 1238.45,431.50" fill="#262626"/>
<text x="1245.32" y="431.50" font-size="27.5">2</text>
<text x="1260.63" y="431.50" font-size="27.5">0</text>
<text x="620.98" y="470.40" font-size="31.5">Time (s)</text>
<text transform="translate(30.0,331.81) rotate(-90)" font-size="31.5">(m)</text>
<text transform="translate(45.3,355.74) rotate(-90)" font-size="24">b</text>
<line x1="17.2" y1="353.90" x2="17.2" y2="369.40" stroke="#cfcfcf" stroke-width="2"/>
<path d="M18.0,367.10 Q20,363.10 22,362.60 L28.5,362.90 Q30.3,363.40 30.3,365.60" fill="none" stroke="#777" stroke-width="1.8"/>
<polygon points="64.00,514.60 64.00,495.30 61.15,495.30 55.90,501.09 56.15,503.59 61.55,499.70 61.55,514.60" fill="#262626"/>
<text x="68.29" y="514.60" font-size="27.5">.</text>
<text x="77.80" y="514.60" font-size="27.5">5</text>
<polygon points="87.50,561.60 87.50,542.00 84.65,542.00 79.60,547.88 79.85,550.38 85.05,546.40 85.05,561.60" fill="#262626"/>
<text x="53.83" y="606.10" font-size="27.5">0</text>
<text x="68.39" y="606.10" font-size="27.5">.</text>
<text x="78.00" y="606.10" font-size="27.5">5</text>
<text x="76.88" y="652.30" font-size="27.5">0</text>
<text x="92.23" y="676.10" font-size="27.5">0</text>
<text x="278.45" y="676.10" font-size="27.5">20</text>
<text x="469.73" y="676.10" font-size="27.5">40</text>
<text x="660.94" y="676.10" font-size="27.5">60</text>
<text x="854.65" y="676.10" font-size="27.5">80</text>
<polygon points="1049.60,676.10 1049.60,656.80 1046.75,656.80 1041.60,662.59 1041.85,665.09 1047.15,661.20 1047.15,676.10" fill="#262626"/>
<text x="1054.43" y="676.10" font-size="27.5">00</text>
<polygon points="1240.90,676.10 1240.90,656.80 1238.05,656.80 1232.80,662.59 1233.05,665.09 1238.45,661.20 1238.45,676.10" fill="#262626"/>
<text x="1245.32" y="676.10" font-size="27.5">2</text>
<text x="1260.63" y="676.10" font-size="27.5">0</text>
<text x="620.98" y="715.00" font-size="31.5">Time (s)</text>
<text transform="translate(30.0,576.41) rotate(-90)" font-size="31.5">(m)</text>
<text transform="translate(45.3,599.59) rotate(-90)" font-size="24">c</text>
<line x1="17.2" y1="598.50" x2="17.2" y2="614.00" stroke="#cfcfcf" stroke-width="2"/>
<path d="M18.0,611.70 Q20,607.70 22,607.20 L28.5,607.50 Q30.3,608.00 30.3,610.20" fill="none" stroke="#777" stroke-width="1.8"/>
<polygon points="64.00,759.20 64.00,739.90 61.15,739.90 55.90,745.69 56.15,748.19 61.55,744.30 61.55,759.20" fill="#262626"/>
<text x="68.29" y="759.20" font-size="27.5">.</text>
<text x="77.80" y="759.20" font-size="27.5">5</text>
<polygon points="87.50,806.20 87.50,786.60 84.65,786.60 79.60,792.48 79.85,794.98 85.05,791.00 85.05,806.20" fill="#262626"/>
<text x="53.83" y="850.70" font-size="27.5">0</text>
<text x="68.39" y="850.70" font-size="27.5">.</text>
<text x="78.00" y="850.70" font-size="27.5">5</text>
<text x="76.88" y="896.90" font-size="27.5">0</text>
<text x="92.23" y="920.70" font-size="27.5">0</text>
<text x="278.45" y="920.70" font-size="27.5">20</text>
<text x="469.73" y="920.70" font-size="27.5">40</text>
<text x="660.94" y="920.70" font-size="27.5">60</text>
<text x="854.65" y="920.70" font-size="27.5">80</text>
<polygon points="1049.60,920.70 1049.60,901.40 1046.75,901.40 1041.60,907.19 1041.85,909.69 1047.15,905.80 1047.15,920.70" fill="#262626"/>
<text x="1054.43" y="920.70" font-size="27.5">00</text>
<polygon points="1240.90,920.70 1240.90,901.40 1238.05,901.40 1232.80,907.19 1233.05,909.69 1238.45,905.80 1238.45,920.70" fill="#262626"/>
<text x="1245.32" y="920.70" font-size="27.5">2</text>
<text x="1260.63" y="920.70" font-size="27.5">0</text>
<text x="620.98" y="959.60" font-size="31.5">Time (s)</text>
<text transform="translate(30.0,821.01) rotate(-90)" font-size="31.5">(m)</text>
<text transform="translate(45.3,844.40) rotate(-90)" font-size="24">d</text>
<line x1="17.2" y1="843.10" x2="17.2" y2="858.60" stroke="#cfcfcf" stroke-width="2"/>
<path d="M18.0,856.30 Q20,852.30 22,851.80 L28.5,852.10 Q30.3,852.60 30.3,854.80" fill="none" stroke="#777" stroke-width="1.8"/>
</g>
</svg>
</body></html>
